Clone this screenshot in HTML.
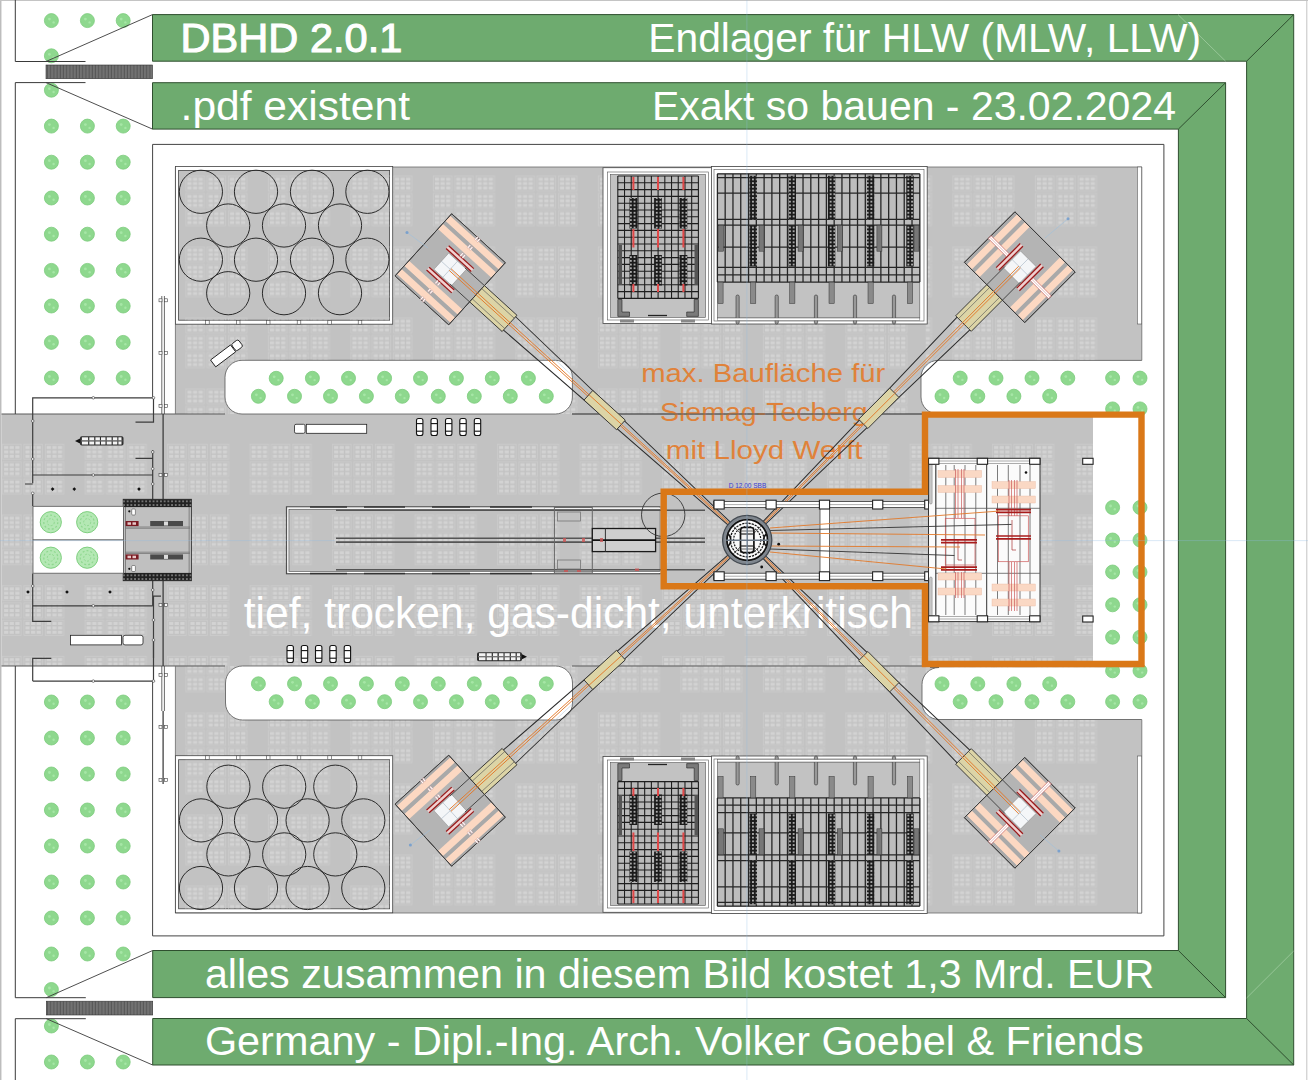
<!DOCTYPE html>
<html><head><meta charset="utf-8">
<style>
html,body{margin:0;padding:0;background:#fff;width:1308px;height:1080px;overflow:hidden}
svg{display:block}
text{font-family:"Liberation Sans",sans-serif}
</style></head><body>
<svg width="1308" height="1080" viewBox="0 0 1308 1080">
<defs>
<pattern id="hatch" width="3.2" height="20" patternUnits="userSpaceOnUse">
<rect width="3.2" height="20" fill="#727272"/><rect x="2.2" width="1" height="20" fill="#555"/>
</pattern>
<pattern id="tilesT" x="20.4" y="175.5" width="82.5" height="71" patternUnits="userSpaceOnUse"><rect x="0.5" y="0.5" width="18.5" height="15" fill="none" stroke="#cdcdcd" stroke-width="0.7"/><rect x="2.0" y="2.2" width="4.2" height="3" fill="#d3d3d3"/><rect x="2.0" y="6.6" width="4.2" height="3" fill="#d3d3d3"/><rect x="2.0" y="11.0" width="4.2" height="3" fill="#d3d3d3"/><rect x="7.6" y="2.2" width="4.2" height="3" fill="#d3d3d3"/><rect x="7.6" y="6.6" width="4.2" height="3" fill="#d3d3d3"/><rect x="7.6" y="11.0" width="4.2" height="3" fill="#d3d3d3"/><rect x="13.2" y="2.2" width="4.2" height="3" fill="#d3d3d3"/><rect x="13.2" y="6.6" width="4.2" height="3" fill="#d3d3d3"/><rect x="13.2" y="11.0" width="4.2" height="3" fill="#d3d3d3"/><rect x="0.5" y="17.8" width="18.5" height="15" fill="none" stroke="#cdcdcd" stroke-width="0.7"/><rect x="2.0" y="19.5" width="4.2" height="3" fill="#d3d3d3"/><rect x="2.0" y="23.9" width="4.2" height="3" fill="#d3d3d3"/><rect x="2.0" y="28.3" width="4.2" height="3" fill="#d3d3d3"/><rect x="7.6" y="19.5" width="4.2" height="3" fill="#d3d3d3"/><rect x="7.6" y="23.9" width="4.2" height="3" fill="#d3d3d3"/><rect x="7.6" y="28.3" width="4.2" height="3" fill="#d3d3d3"/><rect x="13.2" y="19.5" width="4.2" height="3" fill="#d3d3d3"/><rect x="13.2" y="23.9" width="4.2" height="3" fill="#d3d3d3"/><rect x="13.2" y="28.3" width="4.2" height="3" fill="#d3d3d3"/><rect x="0.5" y="35.1" width="18.5" height="15" fill="none" stroke="#cdcdcd" stroke-width="0.7"/><rect x="2.0" y="36.800000000000004" width="4.2" height="3" fill="#d3d3d3"/><rect x="2.0" y="41.2" width="4.2" height="3" fill="#d3d3d3"/><rect x="2.0" y="45.6" width="4.2" height="3" fill="#d3d3d3"/><rect x="7.6" y="36.800000000000004" width="4.2" height="3" fill="#d3d3d3"/><rect x="7.6" y="41.2" width="4.2" height="3" fill="#d3d3d3"/><rect x="7.6" y="45.6" width="4.2" height="3" fill="#d3d3d3"/><rect x="13.2" y="36.800000000000004" width="4.2" height="3" fill="#d3d3d3"/><rect x="13.2" y="41.2" width="4.2" height="3" fill="#d3d3d3"/><rect x="13.2" y="45.6" width="4.2" height="3" fill="#d3d3d3"/><rect x="21.8" y="0.5" width="18.5" height="15" fill="none" stroke="#cdcdcd" stroke-width="0.7"/><rect x="23.3" y="2.2" width="4.2" height="3" fill="#d3d3d3"/><rect x="23.3" y="6.6" width="4.2" height="3" fill="#d3d3d3"/><rect x="23.3" y="11.0" width="4.2" height="3" fill="#d3d3d3"/><rect x="28.9" y="2.2" width="4.2" height="3" fill="#d3d3d3"/><rect x="28.9" y="6.6" width="4.2" height="3" fill="#d3d3d3"/><rect x="28.9" y="11.0" width="4.2" height="3" fill="#d3d3d3"/><rect x="34.5" y="2.2" width="4.2" height="3" fill="#d3d3d3"/><rect x="34.5" y="6.6" width="4.2" height="3" fill="#d3d3d3"/><rect x="34.5" y="11.0" width="4.2" height="3" fill="#d3d3d3"/><rect x="21.8" y="17.8" width="18.5" height="15" fill="none" stroke="#cdcdcd" stroke-width="0.7"/><rect x="23.3" y="19.5" width="4.2" height="3" fill="#d3d3d3"/><rect x="23.3" y="23.9" width="4.2" height="3" fill="#d3d3d3"/><rect x="23.3" y="28.3" width="4.2" height="3" fill="#d3d3d3"/><rect x="28.9" y="19.5" width="4.2" height="3" fill="#d3d3d3"/><rect x="28.9" y="23.9" width="4.2" height="3" fill="#d3d3d3"/><rect x="28.9" y="28.3" width="4.2" height="3" fill="#d3d3d3"/><rect x="34.5" y="19.5" width="4.2" height="3" fill="#d3d3d3"/><rect x="34.5" y="23.9" width="4.2" height="3" fill="#d3d3d3"/><rect x="34.5" y="28.3" width="4.2" height="3" fill="#d3d3d3"/><rect x="21.8" y="35.1" width="18.5" height="15" fill="none" stroke="#cdcdcd" stroke-width="0.7"/><rect x="23.3" y="36.800000000000004" width="4.2" height="3" fill="#d3d3d3"/><rect x="23.3" y="41.2" width="4.2" height="3" fill="#d3d3d3"/><rect x="23.3" y="45.6" width="4.2" height="3" fill="#d3d3d3"/><rect x="28.9" y="36.800000000000004" width="4.2" height="3" fill="#d3d3d3"/><rect x="28.9" y="41.2" width="4.2" height="3" fill="#d3d3d3"/><rect x="28.9" y="45.6" width="4.2" height="3" fill="#d3d3d3"/><rect x="34.5" y="36.800000000000004" width="4.2" height="3" fill="#d3d3d3"/><rect x="34.5" y="41.2" width="4.2" height="3" fill="#d3d3d3"/><rect x="34.5" y="45.6" width="4.2" height="3" fill="#d3d3d3"/><rect x="43.1" y="0.5" width="18.5" height="15" fill="none" stroke="#cdcdcd" stroke-width="0.7"/><rect x="44.6" y="2.2" width="4.2" height="3" fill="#d3d3d3"/><rect x="44.6" y="6.6" width="4.2" height="3" fill="#d3d3d3"/><rect x="44.6" y="11.0" width="4.2" height="3" fill="#d3d3d3"/><rect x="50.2" y="2.2" width="4.2" height="3" fill="#d3d3d3"/><rect x="50.2" y="6.6" width="4.2" height="3" fill="#d3d3d3"/><rect x="50.2" y="11.0" width="4.2" height="3" fill="#d3d3d3"/><rect x="55.8" y="2.2" width="4.2" height="3" fill="#d3d3d3"/><rect x="55.8" y="6.6" width="4.2" height="3" fill="#d3d3d3"/><rect x="55.8" y="11.0" width="4.2" height="3" fill="#d3d3d3"/><rect x="43.1" y="17.8" width="18.5" height="15" fill="none" stroke="#cdcdcd" stroke-width="0.7"/><rect x="44.6" y="19.5" width="4.2" height="3" fill="#d3d3d3"/><rect x="44.6" y="23.9" width="4.2" height="3" fill="#d3d3d3"/><rect x="44.6" y="28.3" width="4.2" height="3" fill="#d3d3d3"/><rect x="50.2" y="19.5" width="4.2" height="3" fill="#d3d3d3"/><rect x="50.2" y="23.9" width="4.2" height="3" fill="#d3d3d3"/><rect x="50.2" y="28.3" width="4.2" height="3" fill="#d3d3d3"/><rect x="55.8" y="19.5" width="4.2" height="3" fill="#d3d3d3"/><rect x="55.8" y="23.9" width="4.2" height="3" fill="#d3d3d3"/><rect x="55.8" y="28.3" width="4.2" height="3" fill="#d3d3d3"/><rect x="43.1" y="35.1" width="18.5" height="15" fill="none" stroke="#cdcdcd" stroke-width="0.7"/><rect x="44.6" y="36.800000000000004" width="4.2" height="3" fill="#d3d3d3"/><rect x="44.6" y="41.2" width="4.2" height="3" fill="#d3d3d3"/><rect x="44.6" y="45.6" width="4.2" height="3" fill="#d3d3d3"/><rect x="50.2" y="36.800000000000004" width="4.2" height="3" fill="#d3d3d3"/><rect x="50.2" y="41.2" width="4.2" height="3" fill="#d3d3d3"/><rect x="50.2" y="45.6" width="4.2" height="3" fill="#d3d3d3"/><rect x="55.8" y="36.800000000000004" width="4.2" height="3" fill="#d3d3d3"/><rect x="55.8" y="41.2" width="4.2" height="3" fill="#d3d3d3"/><rect x="55.8" y="45.6" width="4.2" height="3" fill="#d3d3d3"/></pattern><pattern id="tilesT2" x="44.9" y="175.5" width="82.5" height="71" patternUnits="userSpaceOnUse"><rect x="0.5" y="0.5" width="18.5" height="15" fill="none" stroke="#cdcdcd" stroke-width="0.7"/><rect x="2.0" y="2.2" width="4.2" height="3" fill="#d3d3d3"/><rect x="2.0" y="6.6" width="4.2" height="3" fill="#d3d3d3"/><rect x="2.0" y="11.0" width="4.2" height="3" fill="#d3d3d3"/><rect x="7.6" y="2.2" width="4.2" height="3" fill="#d3d3d3"/><rect x="7.6" y="6.6" width="4.2" height="3" fill="#d3d3d3"/><rect x="7.6" y="11.0" width="4.2" height="3" fill="#d3d3d3"/><rect x="13.2" y="2.2" width="4.2" height="3" fill="#d3d3d3"/><rect x="13.2" y="6.6" width="4.2" height="3" fill="#d3d3d3"/><rect x="13.2" y="11.0" width="4.2" height="3" fill="#d3d3d3"/><rect x="0.5" y="17.8" width="18.5" height="15" fill="none" stroke="#cdcdcd" stroke-width="0.7"/><rect x="2.0" y="19.5" width="4.2" height="3" fill="#d3d3d3"/><rect x="2.0" y="23.9" width="4.2" height="3" fill="#d3d3d3"/><rect x="2.0" y="28.3" width="4.2" height="3" fill="#d3d3d3"/><rect x="7.6" y="19.5" width="4.2" height="3" fill="#d3d3d3"/><rect x="7.6" y="23.9" width="4.2" height="3" fill="#d3d3d3"/><rect x="7.6" y="28.3" width="4.2" height="3" fill="#d3d3d3"/><rect x="13.2" y="19.5" width="4.2" height="3" fill="#d3d3d3"/><rect x="13.2" y="23.9" width="4.2" height="3" fill="#d3d3d3"/><rect x="13.2" y="28.3" width="4.2" height="3" fill="#d3d3d3"/><rect x="0.5" y="35.1" width="18.5" height="15" fill="none" stroke="#cdcdcd" stroke-width="0.7"/><rect x="2.0" y="36.800000000000004" width="4.2" height="3" fill="#d3d3d3"/><rect x="2.0" y="41.2" width="4.2" height="3" fill="#d3d3d3"/><rect x="2.0" y="45.6" width="4.2" height="3" fill="#d3d3d3"/><rect x="7.6" y="36.800000000000004" width="4.2" height="3" fill="#d3d3d3"/><rect x="7.6" y="41.2" width="4.2" height="3" fill="#d3d3d3"/><rect x="7.6" y="45.6" width="4.2" height="3" fill="#d3d3d3"/><rect x="13.2" y="36.800000000000004" width="4.2" height="3" fill="#d3d3d3"/><rect x="13.2" y="41.2" width="4.2" height="3" fill="#d3d3d3"/><rect x="13.2" y="45.6" width="4.2" height="3" fill="#d3d3d3"/><rect x="21.8" y="0.5" width="18.5" height="15" fill="none" stroke="#cdcdcd" stroke-width="0.7"/><rect x="23.3" y="2.2" width="4.2" height="3" fill="#d3d3d3"/><rect x="23.3" y="6.6" width="4.2" height="3" fill="#d3d3d3"/><rect x="23.3" y="11.0" width="4.2" height="3" fill="#d3d3d3"/><rect x="28.9" y="2.2" width="4.2" height="3" fill="#d3d3d3"/><rect x="28.9" y="6.6" width="4.2" height="3" fill="#d3d3d3"/><rect x="28.9" y="11.0" width="4.2" height="3" fill="#d3d3d3"/><rect x="34.5" y="2.2" width="4.2" height="3" fill="#d3d3d3"/><rect x="34.5" y="6.6" width="4.2" height="3" fill="#d3d3d3"/><rect x="34.5" y="11.0" width="4.2" height="3" fill="#d3d3d3"/><rect x="21.8" y="17.8" width="18.5" height="15" fill="none" stroke="#cdcdcd" stroke-width="0.7"/><rect x="23.3" y="19.5" width="4.2" height="3" fill="#d3d3d3"/><rect x="23.3" y="23.9" width="4.2" height="3" fill="#d3d3d3"/><rect x="23.3" y="28.3" width="4.2" height="3" fill="#d3d3d3"/><rect x="28.9" y="19.5" width="4.2" height="3" fill="#d3d3d3"/><rect x="28.9" y="23.9" width="4.2" height="3" fill="#d3d3d3"/><rect x="28.9" y="28.3" width="4.2" height="3" fill="#d3d3d3"/><rect x="34.5" y="19.5" width="4.2" height="3" fill="#d3d3d3"/><rect x="34.5" y="23.9" width="4.2" height="3" fill="#d3d3d3"/><rect x="34.5" y="28.3" width="4.2" height="3" fill="#d3d3d3"/><rect x="21.8" y="35.1" width="18.5" height="15" fill="none" stroke="#cdcdcd" stroke-width="0.7"/><rect x="23.3" y="36.800000000000004" width="4.2" height="3" fill="#d3d3d3"/><rect x="23.3" y="41.2" width="4.2" height="3" fill="#d3d3d3"/><rect x="23.3" y="45.6" width="4.2" height="3" fill="#d3d3d3"/><rect x="28.9" y="36.800000000000004" width="4.2" height="3" fill="#d3d3d3"/><rect x="28.9" y="41.2" width="4.2" height="3" fill="#d3d3d3"/><rect x="28.9" y="45.6" width="4.2" height="3" fill="#d3d3d3"/><rect x="34.5" y="36.800000000000004" width="4.2" height="3" fill="#d3d3d3"/><rect x="34.5" y="41.2" width="4.2" height="3" fill="#d3d3d3"/><rect x="34.5" y="45.6" width="4.2" height="3" fill="#d3d3d3"/><rect x="43.1" y="0.5" width="18.5" height="15" fill="none" stroke="#cdcdcd" stroke-width="0.7"/><rect x="44.6" y="2.2" width="4.2" height="3" fill="#d3d3d3"/><rect x="44.6" y="6.6" width="4.2" height="3" fill="#d3d3d3"/><rect x="44.6" y="11.0" width="4.2" height="3" fill="#d3d3d3"/><rect x="50.2" y="2.2" width="4.2" height="3" fill="#d3d3d3"/><rect x="50.2" y="6.6" width="4.2" height="3" fill="#d3d3d3"/><rect x="50.2" y="11.0" width="4.2" height="3" fill="#d3d3d3"/><rect x="55.8" y="2.2" width="4.2" height="3" fill="#d3d3d3"/><rect x="55.8" y="6.6" width="4.2" height="3" fill="#d3d3d3"/><rect x="55.8" y="11.0" width="4.2" height="3" fill="#d3d3d3"/><rect x="43.1" y="17.8" width="18.5" height="15" fill="none" stroke="#cdcdcd" stroke-width="0.7"/><rect x="44.6" y="19.5" width="4.2" height="3" fill="#d3d3d3"/><rect x="44.6" y="23.9" width="4.2" height="3" fill="#d3d3d3"/><rect x="44.6" y="28.3" width="4.2" height="3" fill="#d3d3d3"/><rect x="50.2" y="19.5" width="4.2" height="3" fill="#d3d3d3"/><rect x="50.2" y="23.9" width="4.2" height="3" fill="#d3d3d3"/><rect x="50.2" y="28.3" width="4.2" height="3" fill="#d3d3d3"/><rect x="55.8" y="19.5" width="4.2" height="3" fill="#d3d3d3"/><rect x="55.8" y="23.9" width="4.2" height="3" fill="#d3d3d3"/><rect x="55.8" y="28.3" width="4.2" height="3" fill="#d3d3d3"/><rect x="43.1" y="35.1" width="18.5" height="15" fill="none" stroke="#cdcdcd" stroke-width="0.7"/><rect x="44.6" y="36.800000000000004" width="4.2" height="3" fill="#d3d3d3"/><rect x="44.6" y="41.2" width="4.2" height="3" fill="#d3d3d3"/><rect x="44.6" y="45.6" width="4.2" height="3" fill="#d3d3d3"/><rect x="50.2" y="36.800000000000004" width="4.2" height="3" fill="#d3d3d3"/><rect x="50.2" y="41.2" width="4.2" height="3" fill="#d3d3d3"/><rect x="50.2" y="45.6" width="4.2" height="3" fill="#d3d3d3"/><rect x="55.8" y="36.800000000000004" width="4.2" height="3" fill="#d3d3d3"/><rect x="55.8" y="41.2" width="4.2" height="3" fill="#d3d3d3"/><rect x="55.8" y="45.6" width="4.2" height="3" fill="#d3d3d3"/></pattern><pattern id="tilesR" x="2.1" y="443.8" width="82.5" height="70.7" patternUnits="userSpaceOnUse"><rect x="0.5" y="0.5" width="18.5" height="15" fill="none" stroke="#cdcdcd" stroke-width="0.7"/><rect x="2.0" y="2.2" width="4.2" height="3" fill="#d3d3d3"/><rect x="2.0" y="6.6" width="4.2" height="3" fill="#d3d3d3"/><rect x="2.0" y="11.0" width="4.2" height="3" fill="#d3d3d3"/><rect x="7.6" y="2.2" width="4.2" height="3" fill="#d3d3d3"/><rect x="7.6" y="6.6" width="4.2" height="3" fill="#d3d3d3"/><rect x="7.6" y="11.0" width="4.2" height="3" fill="#d3d3d3"/><rect x="13.2" y="2.2" width="4.2" height="3" fill="#d3d3d3"/><rect x="13.2" y="6.6" width="4.2" height="3" fill="#d3d3d3"/><rect x="13.2" y="11.0" width="4.2" height="3" fill="#d3d3d3"/><rect x="0.5" y="17.8" width="18.5" height="15" fill="none" stroke="#cdcdcd" stroke-width="0.7"/><rect x="2.0" y="19.5" width="4.2" height="3" fill="#d3d3d3"/><rect x="2.0" y="23.9" width="4.2" height="3" fill="#d3d3d3"/><rect x="2.0" y="28.3" width="4.2" height="3" fill="#d3d3d3"/><rect x="7.6" y="19.5" width="4.2" height="3" fill="#d3d3d3"/><rect x="7.6" y="23.9" width="4.2" height="3" fill="#d3d3d3"/><rect x="7.6" y="28.3" width="4.2" height="3" fill="#d3d3d3"/><rect x="13.2" y="19.5" width="4.2" height="3" fill="#d3d3d3"/><rect x="13.2" y="23.9" width="4.2" height="3" fill="#d3d3d3"/><rect x="13.2" y="28.3" width="4.2" height="3" fill="#d3d3d3"/><rect x="0.5" y="35.1" width="18.5" height="15" fill="none" stroke="#cdcdcd" stroke-width="0.7"/><rect x="2.0" y="36.800000000000004" width="4.2" height="3" fill="#d3d3d3"/><rect x="2.0" y="41.2" width="4.2" height="3" fill="#d3d3d3"/><rect x="2.0" y="45.6" width="4.2" height="3" fill="#d3d3d3"/><rect x="7.6" y="36.800000000000004" width="4.2" height="3" fill="#d3d3d3"/><rect x="7.6" y="41.2" width="4.2" height="3" fill="#d3d3d3"/><rect x="7.6" y="45.6" width="4.2" height="3" fill="#d3d3d3"/><rect x="13.2" y="36.800000000000004" width="4.2" height="3" fill="#d3d3d3"/><rect x="13.2" y="41.2" width="4.2" height="3" fill="#d3d3d3"/><rect x="13.2" y="45.6" width="4.2" height="3" fill="#d3d3d3"/><rect x="21.8" y="0.5" width="18.5" height="15" fill="none" stroke="#cdcdcd" stroke-width="0.7"/><rect x="23.3" y="2.2" width="4.2" height="3" fill="#d3d3d3"/><rect x="23.3" y="6.6" width="4.2" height="3" fill="#d3d3d3"/><rect x="23.3" y="11.0" width="4.2" height="3" fill="#d3d3d3"/><rect x="28.9" y="2.2" width="4.2" height="3" fill="#d3d3d3"/><rect x="28.9" y="6.6" width="4.2" height="3" fill="#d3d3d3"/><rect x="28.9" y="11.0" width="4.2" height="3" fill="#d3d3d3"/><rect x="34.5" y="2.2" width="4.2" height="3" fill="#d3d3d3"/><rect x="34.5" y="6.6" width="4.2" height="3" fill="#d3d3d3"/><rect x="34.5" y="11.0" width="4.2" height="3" fill="#d3d3d3"/><rect x="21.8" y="17.8" width="18.5" height="15" fill="none" stroke="#cdcdcd" stroke-width="0.7"/><rect x="23.3" y="19.5" width="4.2" height="3" fill="#d3d3d3"/><rect x="23.3" y="23.9" width="4.2" height="3" fill="#d3d3d3"/><rect x="23.3" y="28.3" width="4.2" height="3" fill="#d3d3d3"/><rect x="28.9" y="19.5" width="4.2" height="3" fill="#d3d3d3"/><rect x="28.9" y="23.9" width="4.2" height="3" fill="#d3d3d3"/><rect x="28.9" y="28.3" width="4.2" height="3" fill="#d3d3d3"/><rect x="34.5" y="19.5" width="4.2" height="3" fill="#d3d3d3"/><rect x="34.5" y="23.9" width="4.2" height="3" fill="#d3d3d3"/><rect x="34.5" y="28.3" width="4.2" height="3" fill="#d3d3d3"/><rect x="21.8" y="35.1" width="18.5" height="15" fill="none" stroke="#cdcdcd" stroke-width="0.7"/><rect x="23.3" y="36.800000000000004" width="4.2" height="3" fill="#d3d3d3"/><rect x="23.3" y="41.2" width="4.2" height="3" fill="#d3d3d3"/><rect x="23.3" y="45.6" width="4.2" height="3" fill="#d3d3d3"/><rect x="28.9" y="36.800000000000004" width="4.2" height="3" fill="#d3d3d3"/><rect x="28.9" y="41.2" width="4.2" height="3" fill="#d3d3d3"/><rect x="28.9" y="45.6" width="4.2" height="3" fill="#d3d3d3"/><rect x="34.5" y="36.800000000000004" width="4.2" height="3" fill="#d3d3d3"/><rect x="34.5" y="41.2" width="4.2" height="3" fill="#d3d3d3"/><rect x="34.5" y="45.6" width="4.2" height="3" fill="#d3d3d3"/><rect x="43.1" y="0.5" width="18.5" height="15" fill="none" stroke="#cdcdcd" stroke-width="0.7"/><rect x="44.6" y="2.2" width="4.2" height="3" fill="#d3d3d3"/><rect x="44.6" y="6.6" width="4.2" height="3" fill="#d3d3d3"/><rect x="44.6" y="11.0" width="4.2" height="3" fill="#d3d3d3"/><rect x="50.2" y="2.2" width="4.2" height="3" fill="#d3d3d3"/><rect x="50.2" y="6.6" width="4.2" height="3" fill="#d3d3d3"/><rect x="50.2" y="11.0" width="4.2" height="3" fill="#d3d3d3"/><rect x="55.8" y="2.2" width="4.2" height="3" fill="#d3d3d3"/><rect x="55.8" y="6.6" width="4.2" height="3" fill="#d3d3d3"/><rect x="55.8" y="11.0" width="4.2" height="3" fill="#d3d3d3"/><rect x="43.1" y="17.8" width="18.5" height="15" fill="none" stroke="#cdcdcd" stroke-width="0.7"/><rect x="44.6" y="19.5" width="4.2" height="3" fill="#d3d3d3"/><rect x="44.6" y="23.9" width="4.2" height="3" fill="#d3d3d3"/><rect x="44.6" y="28.3" width="4.2" height="3" fill="#d3d3d3"/><rect x="50.2" y="19.5" width="4.2" height="3" fill="#d3d3d3"/><rect x="50.2" y="23.9" width="4.2" height="3" fill="#d3d3d3"/><rect x="50.2" y="28.3" width="4.2" height="3" fill="#d3d3d3"/><rect x="55.8" y="19.5" width="4.2" height="3" fill="#d3d3d3"/><rect x="55.8" y="23.9" width="4.2" height="3" fill="#d3d3d3"/><rect x="55.8" y="28.3" width="4.2" height="3" fill="#d3d3d3"/><rect x="43.1" y="35.1" width="18.5" height="15" fill="none" stroke="#cdcdcd" stroke-width="0.7"/><rect x="44.6" y="36.800000000000004" width="4.2" height="3" fill="#d3d3d3"/><rect x="44.6" y="41.2" width="4.2" height="3" fill="#d3d3d3"/><rect x="44.6" y="45.6" width="4.2" height="3" fill="#d3d3d3"/><rect x="50.2" y="36.800000000000004" width="4.2" height="3" fill="#d3d3d3"/><rect x="50.2" y="41.2" width="4.2" height="3" fill="#d3d3d3"/><rect x="50.2" y="45.6" width="4.2" height="3" fill="#d3d3d3"/><rect x="55.8" y="36.800000000000004" width="4.2" height="3" fill="#d3d3d3"/><rect x="55.8" y="41.2" width="4.2" height="3" fill="#d3d3d3"/><rect x="55.8" y="45.6" width="4.2" height="3" fill="#d3d3d3"/></pattern><pattern id="tilesB" x="20.4" y="712.5" width="82.5" height="71" patternUnits="userSpaceOnUse"><rect x="0.5" y="0.5" width="18.5" height="15" fill="none" stroke="#cdcdcd" stroke-width="0.7"/><rect x="2.0" y="2.2" width="4.2" height="3" fill="#d3d3d3"/><rect x="2.0" y="6.6" width="4.2" height="3" fill="#d3d3d3"/><rect x="2.0" y="11.0" width="4.2" height="3" fill="#d3d3d3"/><rect x="7.6" y="2.2" width="4.2" height="3" fill="#d3d3d3"/><rect x="7.6" y="6.6" width="4.2" height="3" fill="#d3d3d3"/><rect x="7.6" y="11.0" width="4.2" height="3" fill="#d3d3d3"/><rect x="13.2" y="2.2" width="4.2" height="3" fill="#d3d3d3"/><rect x="13.2" y="6.6" width="4.2" height="3" fill="#d3d3d3"/><rect x="13.2" y="11.0" width="4.2" height="3" fill="#d3d3d3"/><rect x="0.5" y="17.8" width="18.5" height="15" fill="none" stroke="#cdcdcd" stroke-width="0.7"/><rect x="2.0" y="19.5" width="4.2" height="3" fill="#d3d3d3"/><rect x="2.0" y="23.9" width="4.2" height="3" fill="#d3d3d3"/><rect x="2.0" y="28.3" width="4.2" height="3" fill="#d3d3d3"/><rect x="7.6" y="19.5" width="4.2" height="3" fill="#d3d3d3"/><rect x="7.6" y="23.9" width="4.2" height="3" fill="#d3d3d3"/><rect x="7.6" y="28.3" width="4.2" height="3" fill="#d3d3d3"/><rect x="13.2" y="19.5" width="4.2" height="3" fill="#d3d3d3"/><rect x="13.2" y="23.9" width="4.2" height="3" fill="#d3d3d3"/><rect x="13.2" y="28.3" width="4.2" height="3" fill="#d3d3d3"/><rect x="0.5" y="35.1" width="18.5" height="15" fill="none" stroke="#cdcdcd" stroke-width="0.7"/><rect x="2.0" y="36.800000000000004" width="4.2" height="3" fill="#d3d3d3"/><rect x="2.0" y="41.2" width="4.2" height="3" fill="#d3d3d3"/><rect x="2.0" y="45.6" width="4.2" height="3" fill="#d3d3d3"/><rect x="7.6" y="36.800000000000004" width="4.2" height="3" fill="#d3d3d3"/><rect x="7.6" y="41.2" width="4.2" height="3" fill="#d3d3d3"/><rect x="7.6" y="45.6" width="4.2" height="3" fill="#d3d3d3"/><rect x="13.2" y="36.800000000000004" width="4.2" height="3" fill="#d3d3d3"/><rect x="13.2" y="41.2" width="4.2" height="3" fill="#d3d3d3"/><rect x="13.2" y="45.6" width="4.2" height="3" fill="#d3d3d3"/><rect x="21.8" y="0.5" width="18.5" height="15" fill="none" stroke="#cdcdcd" stroke-width="0.7"/><rect x="23.3" y="2.2" width="4.2" height="3" fill="#d3d3d3"/><rect x="23.3" y="6.6" width="4.2" height="3" fill="#d3d3d3"/><rect x="23.3" y="11.0" width="4.2" height="3" fill="#d3d3d3"/><rect x="28.9" y="2.2" width="4.2" height="3" fill="#d3d3d3"/><rect x="28.9" y="6.6" width="4.2" height="3" fill="#d3d3d3"/><rect x="28.9" y="11.0" width="4.2" height="3" fill="#d3d3d3"/><rect x="34.5" y="2.2" width="4.2" height="3" fill="#d3d3d3"/><rect x="34.5" y="6.6" width="4.2" height="3" fill="#d3d3d3"/><rect x="34.5" y="11.0" width="4.2" height="3" fill="#d3d3d3"/><rect x="21.8" y="17.8" width="18.5" height="15" fill="none" stroke="#cdcdcd" stroke-width="0.7"/><rect x="23.3" y="19.5" width="4.2" height="3" fill="#d3d3d3"/><rect x="23.3" y="23.9" width="4.2" height="3" fill="#d3d3d3"/><rect x="23.3" y="28.3" width="4.2" height="3" fill="#d3d3d3"/><rect x="28.9" y="19.5" width="4.2" height="3" fill="#d3d3d3"/><rect x="28.9" y="23.9" width="4.2" height="3" fill="#d3d3d3"/><rect x="28.9" y="28.3" width="4.2" height="3" fill="#d3d3d3"/><rect x="34.5" y="19.5" width="4.2" height="3" fill="#d3d3d3"/><rect x="34.5" y="23.9" width="4.2" height="3" fill="#d3d3d3"/><rect x="34.5" y="28.3" width="4.2" height="3" fill="#d3d3d3"/><rect x="21.8" y="35.1" width="18.5" height="15" fill="none" stroke="#cdcdcd" stroke-width="0.7"/><rect x="23.3" y="36.800000000000004" width="4.2" height="3" fill="#d3d3d3"/><rect x="23.3" y="41.2" width="4.2" height="3" fill="#d3d3d3"/><rect x="23.3" y="45.6" width="4.2" height="3" fill="#d3d3d3"/><rect x="28.9" y="36.800000000000004" width="4.2" height="3" fill="#d3d3d3"/><rect x="28.9" y="41.2" width="4.2" height="3" fill="#d3d3d3"/><rect x="28.9" y="45.6" width="4.2" height="3" fill="#d3d3d3"/><rect x="34.5" y="36.800000000000004" width="4.2" height="3" fill="#d3d3d3"/><rect x="34.5" y="41.2" width="4.2" height="3" fill="#d3d3d3"/><rect x="34.5" y="45.6" width="4.2" height="3" fill="#d3d3d3"/><rect x="43.1" y="0.5" width="18.5" height="15" fill="none" stroke="#cdcdcd" stroke-width="0.7"/><rect x="44.6" y="2.2" width="4.2" height="3" fill="#d3d3d3"/><rect x="44.6" y="6.6" width="4.2" height="3" fill="#d3d3d3"/><rect x="44.6" y="11.0" width="4.2" height="3" fill="#d3d3d3"/><rect x="50.2" y="2.2" width="4.2" height="3" fill="#d3d3d3"/><rect x="50.2" y="6.6" width="4.2" height="3" fill="#d3d3d3"/><rect x="50.2" y="11.0" width="4.2" height="3" fill="#d3d3d3"/><rect x="55.8" y="2.2" width="4.2" height="3" fill="#d3d3d3"/><rect x="55.8" y="6.6" width="4.2" height="3" fill="#d3d3d3"/><rect x="55.8" y="11.0" width="4.2" height="3" fill="#d3d3d3"/><rect x="43.1" y="17.8" width="18.5" height="15" fill="none" stroke="#cdcdcd" stroke-width="0.7"/><rect x="44.6" y="19.5" width="4.2" height="3" fill="#d3d3d3"/><rect x="44.6" y="23.9" width="4.2" height="3" fill="#d3d3d3"/><rect x="44.6" y="28.3" width="4.2" height="3" fill="#d3d3d3"/><rect x="50.2" y="19.5" width="4.2" height="3" fill="#d3d3d3"/><rect x="50.2" y="23.9" width="4.2" height="3" fill="#d3d3d3"/><rect x="50.2" y="28.3" width="4.2" height="3" fill="#d3d3d3"/><rect x="55.8" y="19.5" width="4.2" height="3" fill="#d3d3d3"/><rect x="55.8" y="23.9" width="4.2" height="3" fill="#d3d3d3"/><rect x="55.8" y="28.3" width="4.2" height="3" fill="#d3d3d3"/><rect x="43.1" y="35.1" width="18.5" height="15" fill="none" stroke="#cdcdcd" stroke-width="0.7"/><rect x="44.6" y="36.800000000000004" width="4.2" height="3" fill="#d3d3d3"/><rect x="44.6" y="41.2" width="4.2" height="3" fill="#d3d3d3"/><rect x="44.6" y="45.6" width="4.2" height="3" fill="#d3d3d3"/><rect x="50.2" y="36.800000000000004" width="4.2" height="3" fill="#d3d3d3"/><rect x="50.2" y="41.2" width="4.2" height="3" fill="#d3d3d3"/><rect x="50.2" y="45.6" width="4.2" height="3" fill="#d3d3d3"/><rect x="55.8" y="36.800000000000004" width="4.2" height="3" fill="#d3d3d3"/><rect x="55.8" y="41.2" width="4.2" height="3" fill="#d3d3d3"/><rect x="55.8" y="45.6" width="4.2" height="3" fill="#d3d3d3"/></pattern><pattern id="tilesB2" x="44.9" y="712.5" width="82.5" height="71" patternUnits="userSpaceOnUse"><rect x="0.5" y="0.5" width="18.5" height="15" fill="none" stroke="#cdcdcd" stroke-width="0.7"/><rect x="2.0" y="2.2" width="4.2" height="3" fill="#d3d3d3"/><rect x="2.0" y="6.6" width="4.2" height="3" fill="#d3d3d3"/><rect x="2.0" y="11.0" width="4.2" height="3" fill="#d3d3d3"/><rect x="7.6" y="2.2" width="4.2" height="3" fill="#d3d3d3"/><rect x="7.6" y="6.6" width="4.2" height="3" fill="#d3d3d3"/><rect x="7.6" y="11.0" width="4.2" height="3" fill="#d3d3d3"/><rect x="13.2" y="2.2" width="4.2" height="3" fill="#d3d3d3"/><rect x="13.2" y="6.6" width="4.2" height="3" fill="#d3d3d3"/><rect x="13.2" y="11.0" width="4.2" height="3" fill="#d3d3d3"/><rect x="0.5" y="17.8" width="18.5" height="15" fill="none" stroke="#cdcdcd" stroke-width="0.7"/><rect x="2.0" y="19.5" width="4.2" height="3" fill="#d3d3d3"/><rect x="2.0" y="23.9" width="4.2" height="3" fill="#d3d3d3"/><rect x="2.0" y="28.3" width="4.2" height="3" fill="#d3d3d3"/><rect x="7.6" y="19.5" width="4.2" height="3" fill="#d3d3d3"/><rect x="7.6" y="23.9" width="4.2" height="3" fill="#d3d3d3"/><rect x="7.6" y="28.3" width="4.2" height="3" fill="#d3d3d3"/><rect x="13.2" y="19.5" width="4.2" height="3" fill="#d3d3d3"/><rect x="13.2" y="23.9" width="4.2" height="3" fill="#d3d3d3"/><rect x="13.2" y="28.3" width="4.2" height="3" fill="#d3d3d3"/><rect x="0.5" y="35.1" width="18.5" height="15" fill="none" stroke="#cdcdcd" stroke-width="0.7"/><rect x="2.0" y="36.800000000000004" width="4.2" height="3" fill="#d3d3d3"/><rect x="2.0" y="41.2" width="4.2" height="3" fill="#d3d3d3"/><rect x="2.0" y="45.6" width="4.2" height="3" fill="#d3d3d3"/><rect x="7.6" y="36.800000000000004" width="4.2" height="3" fill="#d3d3d3"/><rect x="7.6" y="41.2" width="4.2" height="3" fill="#d3d3d3"/><rect x="7.6" y="45.6" width="4.2" height="3" fill="#d3d3d3"/><rect x="13.2" y="36.800000000000004" width="4.2" height="3" fill="#d3d3d3"/><rect x="13.2" y="41.2" width="4.2" height="3" fill="#d3d3d3"/><rect x="13.2" y="45.6" width="4.2" height="3" fill="#d3d3d3"/><rect x="21.8" y="0.5" width="18.5" height="15" fill="none" stroke="#cdcdcd" stroke-width="0.7"/><rect x="23.3" y="2.2" width="4.2" height="3" fill="#d3d3d3"/><rect x="23.3" y="6.6" width="4.2" height="3" fill="#d3d3d3"/><rect x="23.3" y="11.0" width="4.2" height="3" fill="#d3d3d3"/><rect x="28.9" y="2.2" width="4.2" height="3" fill="#d3d3d3"/><rect x="28.9" y="6.6" width="4.2" height="3" fill="#d3d3d3"/><rect x="28.9" y="11.0" width="4.2" height="3" fill="#d3d3d3"/><rect x="34.5" y="2.2" width="4.2" height="3" fill="#d3d3d3"/><rect x="34.5" y="6.6" width="4.2" height="3" fill="#d3d3d3"/><rect x="34.5" y="11.0" width="4.2" height="3" fill="#d3d3d3"/><rect x="21.8" y="17.8" width="18.5" height="15" fill="none" stroke="#cdcdcd" stroke-width="0.7"/><rect x="23.3" y="19.5" width="4.2" height="3" fill="#d3d3d3"/><rect x="23.3" y="23.9" width="4.2" height="3" fill="#d3d3d3"/><rect x="23.3" y="28.3" width="4.2" height="3" fill="#d3d3d3"/><rect x="28.9" y="19.5" width="4.2" height="3" fill="#d3d3d3"/><rect x="28.9" y="23.9" width="4.2" height="3" fill="#d3d3d3"/><rect x="28.9" y="28.3" width="4.2" height="3" fill="#d3d3d3"/><rect x="34.5" y="19.5" width="4.2" height="3" fill="#d3d3d3"/><rect x="34.5" y="23.9" width="4.2" height="3" fill="#d3d3d3"/><rect x="34.5" y="28.3" width="4.2" height="3" fill="#d3d3d3"/><rect x="21.8" y="35.1" width="18.5" height="15" fill="none" stroke="#cdcdcd" stroke-width="0.7"/><rect x="23.3" y="36.800000000000004" width="4.2" height="3" fill="#d3d3d3"/><rect x="23.3" y="41.2" width="4.2" height="3" fill="#d3d3d3"/><rect x="23.3" y="45.6" width="4.2" height="3" fill="#d3d3d3"/><rect x="28.9" y="36.800000000000004" width="4.2" height="3" fill="#d3d3d3"/><rect x="28.9" y="41.2" width="4.2" height="3" fill="#d3d3d3"/><rect x="28.9" y="45.6" width="4.2" height="3" fill="#d3d3d3"/><rect x="34.5" y="36.800000000000004" width="4.2" height="3" fill="#d3d3d3"/><rect x="34.5" y="41.2" width="4.2" height="3" fill="#d3d3d3"/><rect x="34.5" y="45.6" width="4.2" height="3" fill="#d3d3d3"/><rect x="43.1" y="0.5" width="18.5" height="15" fill="none" stroke="#cdcdcd" stroke-width="0.7"/><rect x="44.6" y="2.2" width="4.2" height="3" fill="#d3d3d3"/><rect x="44.6" y="6.6" width="4.2" height="3" fill="#d3d3d3"/><rect x="44.6" y="11.0" width="4.2" height="3" fill="#d3d3d3"/><rect x="50.2" y="2.2" width="4.2" height="3" fill="#d3d3d3"/><rect x="50.2" y="6.6" width="4.2" height="3" fill="#d3d3d3"/><rect x="50.2" y="11.0" width="4.2" height="3" fill="#d3d3d3"/><rect x="55.8" y="2.2" width="4.2" height="3" fill="#d3d3d3"/><rect x="55.8" y="6.6" width="4.2" height="3" fill="#d3d3d3"/><rect x="55.8" y="11.0" width="4.2" height="3" fill="#d3d3d3"/><rect x="43.1" y="17.8" width="18.5" height="15" fill="none" stroke="#cdcdcd" stroke-width="0.7"/><rect x="44.6" y="19.5" width="4.2" height="3" fill="#d3d3d3"/><rect x="44.6" y="23.9" width="4.2" height="3" fill="#d3d3d3"/><rect x="44.6" y="28.3" width="4.2" height="3" fill="#d3d3d3"/><rect x="50.2" y="19.5" width="4.2" height="3" fill="#d3d3d3"/><rect x="50.2" y="23.9" width="4.2" height="3" fill="#d3d3d3"/><rect x="50.2" y="28.3" width="4.2" height="3" fill="#d3d3d3"/><rect x="55.8" y="19.5" width="4.2" height="3" fill="#d3d3d3"/><rect x="55.8" y="23.9" width="4.2" height="3" fill="#d3d3d3"/><rect x="55.8" y="28.3" width="4.2" height="3" fill="#d3d3d3"/><rect x="43.1" y="35.1" width="18.5" height="15" fill="none" stroke="#cdcdcd" stroke-width="0.7"/><rect x="44.6" y="36.800000000000004" width="4.2" height="3" fill="#d3d3d3"/><rect x="44.6" y="41.2" width="4.2" height="3" fill="#d3d3d3"/><rect x="44.6" y="45.6" width="4.2" height="3" fill="#d3d3d3"/><rect x="50.2" y="36.800000000000004" width="4.2" height="3" fill="#d3d3d3"/><rect x="50.2" y="41.2" width="4.2" height="3" fill="#d3d3d3"/><rect x="50.2" y="45.6" width="4.2" height="3" fill="#d3d3d3"/><rect x="55.8" y="36.800000000000004" width="4.2" height="3" fill="#d3d3d3"/><rect x="55.8" y="41.2" width="4.2" height="3" fill="#d3d3d3"/><rect x="55.8" y="45.6" width="4.2" height="3" fill="#d3d3d3"/></pattern><pattern id="tiles" x="20.4" y="175.5" width="82.5" height="71" patternUnits="userSpaceOnUse"><rect x="0.5" y="0.5" width="18.5" height="15" fill="none" stroke="#cdcdcd" stroke-width="0.7"/><rect x="2.0" y="2.2" width="4.2" height="3" fill="#d3d3d3"/><rect x="2.0" y="6.6" width="4.2" height="3" fill="#d3d3d3"/><rect x="2.0" y="11.0" width="4.2" height="3" fill="#d3d3d3"/><rect x="7.6" y="2.2" width="4.2" height="3" fill="#d3d3d3"/><rect x="7.6" y="6.6" width="4.2" height="3" fill="#d3d3d3"/><rect x="7.6" y="11.0" width="4.2" height="3" fill="#d3d3d3"/><rect x="13.2" y="2.2" width="4.2" height="3" fill="#d3d3d3"/><rect x="13.2" y="6.6" width="4.2" height="3" fill="#d3d3d3"/><rect x="13.2" y="11.0" width="4.2" height="3" fill="#d3d3d3"/><rect x="0.5" y="17.8" width="18.5" height="15" fill="none" stroke="#cdcdcd" stroke-width="0.7"/><rect x="2.0" y="19.5" width="4.2" height="3" fill="#d3d3d3"/><rect x="2.0" y="23.9" width="4.2" height="3" fill="#d3d3d3"/><rect x="2.0" y="28.3" width="4.2" height="3" fill="#d3d3d3"/><rect x="7.6" y="19.5" width="4.2" height="3" fill="#d3d3d3"/><rect x="7.6" y="23.9" width="4.2" height="3" fill="#d3d3d3"/><rect x="7.6" y="28.3" width="4.2" height="3" fill="#d3d3d3"/><rect x="13.2" y="19.5" width="4.2" height="3" fill="#d3d3d3"/><rect x="13.2" y="23.9" width="4.2" height="3" fill="#d3d3d3"/><rect x="13.2" y="28.3" width="4.2" height="3" fill="#d3d3d3"/><rect x="0.5" y="35.1" width="18.5" height="15" fill="none" stroke="#cdcdcd" stroke-width="0.7"/><rect x="2.0" y="36.800000000000004" width="4.2" height="3" fill="#d3d3d3"/><rect x="2.0" y="41.2" width="4.2" height="3" fill="#d3d3d3"/><rect x="2.0" y="45.6" width="4.2" height="3" fill="#d3d3d3"/><rect x="7.6" y="36.800000000000004" width="4.2" height="3" fill="#d3d3d3"/><rect x="7.6" y="41.2" width="4.2" height="3" fill="#d3d3d3"/><rect x="7.6" y="45.6" width="4.2" height="3" fill="#d3d3d3"/><rect x="13.2" y="36.800000000000004" width="4.2" height="3" fill="#d3d3d3"/><rect x="13.2" y="41.2" width="4.2" height="3" fill="#d3d3d3"/><rect x="13.2" y="45.6" width="4.2" height="3" fill="#d3d3d3"/><rect x="21.8" y="0.5" width="18.5" height="15" fill="none" stroke="#cdcdcd" stroke-width="0.7"/><rect x="23.3" y="2.2" width="4.2" height="3" fill="#d3d3d3"/><rect x="23.3" y="6.6" width="4.2" height="3" fill="#d3d3d3"/><rect x="23.3" y="11.0" width="4.2" height="3" fill="#d3d3d3"/><rect x="28.9" y="2.2" width="4.2" height="3" fill="#d3d3d3"/><rect x="28.9" y="6.6" width="4.2" height="3" fill="#d3d3d3"/><rect x="28.9" y="11.0" width="4.2" height="3" fill="#d3d3d3"/><rect x="34.5" y="2.2" width="4.2" height="3" fill="#d3d3d3"/><rect x="34.5" y="6.6" width="4.2" height="3" fill="#d3d3d3"/><rect x="34.5" y="11.0" width="4.2" height="3" fill="#d3d3d3"/><rect x="21.8" y="17.8" width="18.5" height="15" fill="none" stroke="#cdcdcd" stroke-width="0.7"/><rect x="23.3" y="19.5" width="4.2" height="3" fill="#d3d3d3"/><rect x="23.3" y="23.9" width="4.2" height="3" fill="#d3d3d3"/><rect x="23.3" y="28.3" width="4.2" height="3" fill="#d3d3d3"/><rect x="28.9" y="19.5" width="4.2" height="3" fill="#d3d3d3"/><rect x="28.9" y="23.9" width="4.2" height="3" fill="#d3d3d3"/><rect x="28.9" y="28.3" width="4.2" height="3" fill="#d3d3d3"/><rect x="34.5" y="19.5" width="4.2" height="3" fill="#d3d3d3"/><rect x="34.5" y="23.9" width="4.2" height="3" fill="#d3d3d3"/><rect x="34.5" y="28.3" width="4.2" height="3" fill="#d3d3d3"/><rect x="21.8" y="35.1" width="18.5" height="15" fill="none" stroke="#cdcdcd" stroke-width="0.7"/><rect x="23.3" y="36.800000000000004" width="4.2" height="3" fill="#d3d3d3"/><rect x="23.3" y="41.2" width="4.2" height="3" fill="#d3d3d3"/><rect x="23.3" y="45.6" width="4.2" height="3" fill="#d3d3d3"/><rect x="28.9" y="36.800000000000004" width="4.2" height="3" fill="#d3d3d3"/><rect x="28.9" y="41.2" width="4.2" height="3" fill="#d3d3d3"/><rect x="28.9" y="45.6" width="4.2" height="3" fill="#d3d3d3"/><rect x="34.5" y="36.800000000000004" width="4.2" height="3" fill="#d3d3d3"/><rect x="34.5" y="41.2" width="4.2" height="3" fill="#d3d3d3"/><rect x="34.5" y="45.6" width="4.2" height="3" fill="#d3d3d3"/><rect x="43.1" y="0.5" width="18.5" height="15" fill="none" stroke="#cdcdcd" stroke-width="0.7"/><rect x="44.6" y="2.2" width="4.2" height="3" fill="#d3d3d3"/><rect x="44.6" y="6.6" width="4.2" height="3" fill="#d3d3d3"/><rect x="44.6" y="11.0" width="4.2" height="3" fill="#d3d3d3"/><rect x="50.2" y="2.2" width="4.2" height="3" fill="#d3d3d3"/><rect x="50.2" y="6.6" width="4.2" height="3" fill="#d3d3d3"/><rect x="50.2" y="11.0" width="4.2" height="3" fill="#d3d3d3"/><rect x="55.8" y="2.2" width="4.2" height="3" fill="#d3d3d3"/><rect x="55.8" y="6.6" width="4.2" height="3" fill="#d3d3d3"/><rect x="55.8" y="11.0" width="4.2" height="3" fill="#d3d3d3"/><rect x="43.1" y="17.8" width="18.5" height="15" fill="none" stroke="#cdcdcd" stroke-width="0.7"/><rect x="44.6" y="19.5" width="4.2" height="3" fill="#d3d3d3"/><rect x="44.6" y="23.9" width="4.2" height="3" fill="#d3d3d3"/><rect x="44.6" y="28.3" width="4.2" height="3" fill="#d3d3d3"/><rect x="50.2" y="19.5" width="4.2" height="3" fill="#d3d3d3"/><rect x="50.2" y="23.9" width="4.2" height="3" fill="#d3d3d3"/><rect x="50.2" y="28.3" width="4.2" height="3" fill="#d3d3d3"/><rect x="55.8" y="19.5" width="4.2" height="3" fill="#d3d3d3"/><rect x="55.8" y="23.9" width="4.2" height="3" fill="#d3d3d3"/><rect x="55.8" y="28.3" width="4.2" height="3" fill="#d3d3d3"/><rect x="43.1" y="35.1" width="18.5" height="15" fill="none" stroke="#cdcdcd" stroke-width="0.7"/><rect x="44.6" y="36.800000000000004" width="4.2" height="3" fill="#d3d3d3"/><rect x="44.6" y="41.2" width="4.2" height="3" fill="#d3d3d3"/><rect x="44.6" y="45.6" width="4.2" height="3" fill="#d3d3d3"/><rect x="50.2" y="36.800000000000004" width="4.2" height="3" fill="#d3d3d3"/><rect x="50.2" y="41.2" width="4.2" height="3" fill="#d3d3d3"/><rect x="50.2" y="45.6" width="4.2" height="3" fill="#d3d3d3"/><rect x="55.8" y="36.800000000000004" width="4.2" height="3" fill="#d3d3d3"/><rect x="55.8" y="41.2" width="4.2" height="3" fill="#d3d3d3"/><rect x="55.8" y="45.6" width="4.2" height="3" fill="#d3d3d3"/></pattern>
<g id="bigtree"><circle r="10.6" fill="#b4e8b4" stroke="#7fcf7f" stroke-width="1"/><circle r="7" fill="none" stroke="#8fd88f" stroke-width="1.2" stroke-dasharray="2 2"/><circle r="3.5" fill="none" stroke="#8fd88f" stroke-width="1" stroke-dasharray="2 1.5"/></g>
<pattern id="dots" width="3.7" height="3.7" patternUnits="userSpaceOnUse"><circle cx="1.85" cy="1.85" r="0.95" fill="#d8d8d8"/></pattern>
<g id="tree"><circle r="7" fill="#8ed88e" stroke="#7ccb7c" stroke-width="0.8"/><circle cx="-2" cy="-1.5" r="1.4" fill="#a6e6a6"/><circle cx="2.2" cy="1.8" r="1.2" fill="#a6e6a6"/></g>
</defs>
<rect width="1308" height="1080" fill="#fff"/>
<line x1="0.7" y1="0" x2="0.7" y2="1080" stroke="#bdbdbd" stroke-width="1.5"/>
<line x1="0" y1="0.5" x2="1308" y2="0.5" stroke="#c4c4c4" stroke-width="1"/>
<line x1="1306.8" y1="0" x2="1306.8" y2="1080" stroke="#c4c4c4" stroke-width="1"/>
<g fill="#c2c2c2"><rect x="175.4" y="167" width="966.4" height="746"/><rect x="1.5" y="414" width="175" height="252"/></g>
<rect x="175.4" y="167" width="750" height="247" fill="url(#tilesT)"/>
<rect x="925.4" y="167" width="174.6" height="247" fill="url(#tilesT2)"/>
<rect x="1.5" y="425" width="1140.3" height="241" fill="url(#tilesR)"/>
<rect x="175.4" y="666" width="750" height="247" fill="url(#tilesB)"/>
<rect x="925.4" y="666" width="174.6" height="247" fill="url(#tilesB2)"/>
<g fill="#fff" stroke="#555" stroke-width="0.8"><rect x="225" y="360.3" width="347.4" height="53.7" rx="17" ry="17"/><rect x="225.5" y="666" width="347" height="54" rx="17" ry="17"/></g>
<g fill="#fff"><path d="M1163 360.4H938a17 17 0 0 0 -17 17V397a17 17 0 0 0 17 17H1163Z"/><path d="M1163 667.5H939a17 17 0 0 0 -17 17V702.5a17 17 0 0 0 17 17H1163Z"/><path d="M1141.8 360.4H938a17 17 0 0 0 -17 17V397a17 17 0 0 0 17 17H930M1141.8 719.5H939a17 17 0 0 1 -17 -17V684.5a17 17 0 0 1 17 -17H930" fill="none" stroke="#555" stroke-width="0.8"/><rect x="1093" y="416" width="49" height="246"/></g>
<g stroke="#5a5a5a" stroke-width="1"><line x1="1.5" y1="414" x2="225" y2="414"/><line x1="572" y1="414" x2="925" y2="414"/><line x1="1.5" y1="666" x2="225" y2="666"/><line x1="572" y1="666" x2="925" y2="666"/></g>
<use href="#tree" x="51.4" y="20.6"/>
<use href="#tree" x="87.4" y="20.6"/>
<use href="#tree" x="123.2" y="20.6"/>
<use href="#tree" x="51.4" y="126.1"/>
<use href="#tree" x="87.4" y="126.1"/>
<use href="#tree" x="123.2" y="126.1"/>
<use href="#tree" x="51.4" y="162.2"/>
<use href="#tree" x="87.4" y="162.2"/>
<use href="#tree" x="123.2" y="162.2"/>
<use href="#tree" x="51.4" y="198.0"/>
<use href="#tree" x="87.4" y="198.0"/>
<use href="#tree" x="123.2" y="198.0"/>
<use href="#tree" x="51.4" y="234.2"/>
<use href="#tree" x="87.4" y="234.2"/>
<use href="#tree" x="123.2" y="234.2"/>
<use href="#tree" x="51.4" y="270.4"/>
<use href="#tree" x="87.4" y="270.4"/>
<use href="#tree" x="123.2" y="270.4"/>
<use href="#tree" x="51.4" y="306.0"/>
<use href="#tree" x="87.4" y="306.0"/>
<use href="#tree" x="123.2" y="306.0"/>
<use href="#tree" x="51.4" y="342.4"/>
<use href="#tree" x="87.4" y="342.4"/>
<use href="#tree" x="123.2" y="342.4"/>
<use href="#tree" x="51.4" y="378.0"/>
<use href="#tree" x="87.4" y="378.0"/>
<use href="#tree" x="123.2" y="378.0"/>
<use href="#tree" x="51.4" y="702.0"/>
<use href="#tree" x="87.4" y="702.0"/>
<use href="#tree" x="123.2" y="702.0"/>
<use href="#tree" x="51.4" y="738.0"/>
<use href="#tree" x="87.4" y="738.0"/>
<use href="#tree" x="123.2" y="738.0"/>
<use href="#tree" x="51.4" y="774.0"/>
<use href="#tree" x="87.4" y="774.0"/>
<use href="#tree" x="123.2" y="774.0"/>
<use href="#tree" x="51.4" y="810.0"/>
<use href="#tree" x="87.4" y="810.0"/>
<use href="#tree" x="123.2" y="810.0"/>
<use href="#tree" x="51.4" y="846.0"/>
<use href="#tree" x="87.4" y="846.0"/>
<use href="#tree" x="123.2" y="846.0"/>
<use href="#tree" x="51.4" y="882.0"/>
<use href="#tree" x="87.4" y="882.0"/>
<use href="#tree" x="123.2" y="882.0"/>
<use href="#tree" x="51.4" y="918.0"/>
<use href="#tree" x="87.4" y="918.0"/>
<use href="#tree" x="123.2" y="918.0"/>
<use href="#tree" x="51.4" y="954.0"/>
<use href="#tree" x="87.4" y="954.0"/>
<use href="#tree" x="123.2" y="954.0"/>
<use href="#tree" x="51.4" y="1062.0"/>
<use href="#tree" x="87.4" y="1062.0"/>
<use href="#tree" x="123.2" y="1062.0"/>
<use href="#tree" x="51.4" y="55.8"/>
<use href="#tree" x="51.4" y="90.2"/>
<use href="#tree" x="51.4" y="989.5"/>
<use href="#tree" x="51.4" y="1026.0"/>
<g stroke="#3a3a3a" stroke-width="1" fill="none"><path d="M15.3 0V61.5H85.5M15.3 414V82.6H85.5"/><path d="M15.3 666V997.7H85.8M15.3 1080V1018.7H85.8" /><path d="M46 61.5L152.5 14.6M46 82.6L152.5 129.1M46.3 997.7L152.7 950.5M46.3 1018.7L152.7 1065" stroke-width="0.9"/></g>
<rect x="46" y="65" width="106.5" height="13.7" fill="url(#hatch)" stroke="#333" stroke-width="0.6"/>
<rect x="46.3" y="1001.2" width="106.4" height="13.8" fill="url(#hatch)" stroke="#333" stroke-width="0.6"/>
<g stroke="#2f4f2f" stroke-width="1" fill="#6eab6f"><path d="M152.5 14.6H1293.7V1065H152.7V1018.5H1246.6V61.2H152.5Z"/><path d="M152.5 82.7H1225.6V997.6H152.7V950.5H1178.4V129.1H152.5Z"/><path d="M1246.6 61.2L1293.7 14.6M1246.6 1018.5L1293.7 1065M1178.4 129.1L1225.6 82.7M1178.4 950.5L1225.6 997.6" fill="none"/></g>
<g stroke="#b8dcb8" stroke-width="0.7" opacity="0.8"><line x1="1178" y1="14.6" x2="1225.6" y2="61.2"/><line x1="1246.6" y1="998" x2="1293.7" y2="951"/></g>
<g fill="#fff"><text x="180.6" y="51.7" font-size="41.5" stroke="#fff" stroke-width="1.1" textLength="221.7" lengthAdjust="spacingAndGlyphs">DBHD 2.0.1</text><text x="648.3" y="51.8" font-size="41.5" textLength="552.7" lengthAdjust="spacingAndGlyphs">Endlager für HLW (MLW, LLW)</text><text x="180.6" y="119.8" font-size="41.5" textLength="229.4" lengthAdjust="spacingAndGlyphs">.pdf existent</text><text x="652" y="119.8" font-size="41.5" textLength="524" lengthAdjust="spacingAndGlyphs">Exakt so bauen - 23.02.2024</text><text x="204.9" y="987.8" font-size="41.5" textLength="949.3" lengthAdjust="spacingAndGlyphs">alles zusammen in diesem Bild kostet 1,3 Mrd. EUR</text><text x="204.9" y="1055.4" font-size="41.5" textLength="938.7" lengthAdjust="spacingAndGlyphs">Germany - Dipl.-Ing. Arch. Volker Goebel &amp; Friends</text></g>
<path d="M152.6 397.8V144.4H1163.9V935.9H152.6V681" fill="none" stroke="#444" stroke-width="1"/>
<use href="#tree" x="276.2" y="378.3"/>
<use href="#tree" x="276.2" y="701.7"/>
<use href="#tree" x="312.4" y="378.3"/>
<use href="#tree" x="312.4" y="701.7"/>
<use href="#tree" x="348.5" y="378.3"/>
<use href="#tree" x="348.5" y="701.7"/>
<use href="#tree" x="384.6" y="378.3"/>
<use href="#tree" x="384.6" y="701.7"/>
<use href="#tree" x="420.5" y="378.3"/>
<use href="#tree" x="420.5" y="701.7"/>
<use href="#tree" x="456.4" y="378.3"/>
<use href="#tree" x="456.4" y="701.7"/>
<use href="#tree" x="492.3" y="378.3"/>
<use href="#tree" x="492.3" y="701.7"/>
<use href="#tree" x="528.4" y="378.3"/>
<use href="#tree" x="528.4" y="701.7"/>
<use href="#tree" x="258.4" y="396.3"/>
<use href="#tree" x="258.4" y="683.8"/>
<use href="#tree" x="294.5" y="396.3"/>
<use href="#tree" x="294.5" y="683.8"/>
<use href="#tree" x="330.5" y="396.3"/>
<use href="#tree" x="330.5" y="683.8"/>
<use href="#tree" x="366.4" y="396.3"/>
<use href="#tree" x="366.4" y="683.8"/>
<use href="#tree" x="402.3" y="396.3"/>
<use href="#tree" x="402.3" y="683.8"/>
<use href="#tree" x="438.3" y="396.3"/>
<use href="#tree" x="438.3" y="683.8"/>
<use href="#tree" x="474.3" y="396.3"/>
<use href="#tree" x="474.3" y="683.8"/>
<use href="#tree" x="510.3" y="396.3"/>
<use href="#tree" x="510.3" y="683.8"/>
<use href="#tree" x="546.3" y="396.3"/>
<use href="#tree" x="546.3" y="683.8"/>
<use href="#tree" x="960.2" y="378.1"/>
<use href="#tree" x="960.2" y="701.7"/>
<use href="#tree" x="996.0" y="378.1"/>
<use href="#tree" x="996.0" y="701.7"/>
<use href="#tree" x="1032.0" y="378.1"/>
<use href="#tree" x="1032.0" y="701.7"/>
<use href="#tree" x="1067.8" y="378.1"/>
<use href="#tree" x="1067.8" y="701.7"/>
<use href="#tree" x="942.0" y="396.2"/>
<use href="#tree" x="942.0" y="683.9"/>
<use href="#tree" x="977.8" y="396.2"/>
<use href="#tree" x="977.8" y="683.9"/>
<use href="#tree" x="1013.9" y="396.2"/>
<use href="#tree" x="1013.9" y="683.9"/>
<use href="#tree" x="1049.7" y="396.2"/>
<use href="#tree" x="1049.7" y="683.9"/>
<use href="#tree" x="1112.6" y="378.1"/>
<use href="#tree" x="1112.6" y="408.9"/>
<use href="#tree" x="1112.6" y="507.5"/>
<use href="#tree" x="1112.6" y="540.0"/>
<use href="#tree" x="1112.6" y="572.0"/>
<use href="#tree" x="1112.6" y="604.8"/>
<use href="#tree" x="1112.6" y="637.2"/>
<use href="#tree" x="1112.6" y="670.8"/>
<use href="#tree" x="1112.6" y="701.7"/>
<use href="#tree" x="1140.0" y="378.1"/>
<use href="#tree" x="1140.0" y="408.9"/>
<use href="#tree" x="1140.0" y="507.5"/>
<use href="#tree" x="1140.0" y="540.0"/>
<use href="#tree" x="1140.0" y="572.0"/>
<use href="#tree" x="1140.0" y="604.8"/>
<use href="#tree" x="1140.0" y="637.2"/>
<use href="#tree" x="1140.0" y="670.8"/>
<use href="#tree" x="1140.0" y="701.7"/>
<path d="M175.4 414V167H1141.8V360.4M1141.8 719.6V913H175.4V666" fill="none" stroke="#6a6a6a" stroke-width="0.8"/>
<g stroke="#3d3d3d" stroke-width="1.2" fill="none"><path d="M32.7 483.3V397.8H153.5V422.2H135.5"/><path d="M25 484H32.7M32.7 493.3V506"/><path d="M32.7 475H152.7M135.5 458.3H152.7M152.7 450V499.4"/><path d="M32.7 573.5V621.4H51.3"/><path d="M32.7 605.8H152.7M152.7 580V605.8M152.5 596.2H161M153.5 596.2V658"/><path d="M32.7 681.1V658.3H51.3M32.7 681.1H153.5V640"/></g>
<g fill="#fff" stroke="#3d3d3d" stroke-width="0.6"><circle cx="93.3" cy="397.8" r="1.3"/><circle cx="153.5" cy="397.8" r="1.3"/><circle cx="32.7" cy="421" r="1.3"/><circle cx="32.7" cy="459" r="1.3"/><circle cx="93.3" cy="475" r="1.3"/><circle cx="152.7" cy="452" r="1.3"/><circle cx="152.7" cy="468.8" r="1.3"/><circle cx="152.7" cy="484" r="1.3"/><circle cx="32.7" cy="493.3" r="1.3"/><circle cx="93.3" cy="605.8" r="1.3"/><circle cx="153.5" cy="620" r="1.3"/><circle cx="153.5" cy="640" r="1.3"/><circle cx="93.3" cy="681.1" r="1.3"/><circle cx="153.5" cy="681.1" r="1.3"/><circle cx="32.7" cy="586" r="1.3"/><circle cx="152.7" cy="590" r="1.3"/></g>
<g stroke="#444" stroke-width="0.8" fill="none"><path d="M161.8 296V414M164.4 296V414M161.8 666V711M164.4 666V711"/></g>
<line x1="163.1" y1="414" x2="163.1" y2="666" stroke="#333" stroke-width="1.2"/><line x1="163.1" y1="711" x2="163.1" y2="784" stroke="#333" stroke-width="1.2"/>
<rect x="159" y="298.8" width="3" height="3" fill="#fff" stroke="#444" stroke-width="0.6"/><rect x="164.6" y="298.8" width="3" height="3" fill="#fff" stroke="#444" stroke-width="0.6"/>
<rect x="159" y="351.5" width="3" height="3" fill="#fff" stroke="#444" stroke-width="0.6"/><rect x="164.6" y="351.5" width="3" height="3" fill="#fff" stroke="#444" stroke-width="0.6"/>
<rect x="159" y="404.3" width="3" height="3" fill="#fff" stroke="#444" stroke-width="0.6"/><rect x="164.6" y="404.3" width="3" height="3" fill="#fff" stroke="#444" stroke-width="0.6"/>
<rect x="159" y="473.5" width="3" height="3" fill="#fff" stroke="#444" stroke-width="0.6"/><rect x="164.6" y="473.5" width="3" height="3" fill="#fff" stroke="#444" stroke-width="0.6"/>
<rect x="159" y="603.5" width="3" height="3" fill="#fff" stroke="#444" stroke-width="0.6"/><rect x="164.6" y="603.5" width="3" height="3" fill="#fff" stroke="#444" stroke-width="0.6"/>
<rect x="159" y="673.5" width="3" height="3" fill="#fff" stroke="#444" stroke-width="0.6"/><rect x="164.6" y="673.5" width="3" height="3" fill="#fff" stroke="#444" stroke-width="0.6"/>
<rect x="159" y="725.5" width="3" height="3" fill="#fff" stroke="#444" stroke-width="0.6"/><rect x="164.6" y="725.5" width="3" height="3" fill="#fff" stroke="#444" stroke-width="0.6"/>
<rect x="159" y="778.5" width="3" height="3" fill="#fff" stroke="#444" stroke-width="0.6"/><rect x="164.6" y="778.5" width="3" height="3" fill="#fff" stroke="#444" stroke-width="0.6"/>
<rect x="51.300000000000004" y="487.8" width="2.6" height="2.6" fill="#111" transform="rotate(45 52.6 489.1)"/>
<rect x="73.0" y="487.8" width="2.6" height="2.6" fill="#111" transform="rotate(45 74.3 489.1)"/>
<rect x="137.7" y="487.8" width="2.6" height="2.6" fill="#111" transform="rotate(45 139 489.1)"/>
<rect x="26.7" y="590.7" width="2.6" height="2.6" fill="#111" transform="rotate(45 28 592)"/>
<rect x="65.7" y="590.7" width="2.6" height="2.6" fill="#111" transform="rotate(45 67 592)"/>
<rect x="108.7" y="590.7" width="2.6" height="2.6" fill="#111" transform="rotate(45 110 592)"/>
<g><rect x="80" y="436.3" width="43.5" height="9.2" rx="1.8" fill="#2e2e2e"/><rect x="81.9" y="437.3" width="6.2" height="3.1" fill="#f4f4f4"/><rect x="89.3" y="437.3" width="4.9" height="3.1" fill="#f4f4f4"/><rect x="95.4" y="437.3" width="4.5" height="3.1" fill="#f4f4f4"/><rect x="101.0" y="437.3" width="4.5" height="3.1" fill="#f4f4f4"/><rect x="106.7" y="437.3" width="4.9" height="3.1" fill="#f4f4f4"/><rect x="112.8" y="437.3" width="4.5" height="3.1" fill="#f4f4f4"/><rect x="118.4" y="437.3" width="3.1" height="3.1" fill="#f4f4f4"/><rect x="81.9" y="441.4" width="6.2" height="3.1" fill="#f4f4f4"/><rect x="89.3" y="441.4" width="4.9" height="3.1" fill="#f4f4f4"/><rect x="95.4" y="441.4" width="4.5" height="3.1" fill="#f4f4f4"/><rect x="101.0" y="441.4" width="4.5" height="3.1" fill="#f4f4f4"/><rect x="106.7" y="441.4" width="4.9" height="3.1" fill="#f4f4f4"/><rect x="112.8" y="441.4" width="4.5" height="3.1" fill="#f4f4f4"/><rect x="118.4" y="441.4" width="3.1" height="3.1" fill="#f4f4f4"/><line x1="81" y1="440.9" x2="122.5" y2="440.9" stroke="#888" stroke-width="0.8"/><path d="M80 438.40000000000003L75 440.90000000000003L80 443.40000000000003Z" fill="#111"/></g>
<g stroke="#222" stroke-width="0.8" fill="#fff"><rect x="70.5" y="635.3" width="51" height="9.6"/><rect x="123" y="635.3" width="20" height="9.6" rx="2"/></g>
<g><rect x="123.2" y="499.3" width="68.2" height="81.4" fill="#c0c0c0" stroke="#333" stroke-width="0.9"/><rect x="125.5" y="505" width="63.6" height="70" fill="none" stroke="#666" stroke-width="0.7"/><rect x="123.2" y="499.3" width="68.2" height="7.8" fill="#222"/><rect x="123.2" y="572.9" width="68.2" height="7.8" fill="#222"/><rect x="123.2" y="499.3" width="68.2" height="7.8" fill="url(#dots)" opacity="0.6"/><rect x="123.2" y="572.9" width="68.2" height="7.8" fill="url(#dots)" opacity="0.6"/><g stroke="#777" stroke-width="0.8"><line x1="125" y1="527" x2="190" y2="527"/><line x1="125" y1="528.3" x2="190" y2="528.3"/><line x1="125" y1="552.2" x2="190" y2="552.2"/><line x1="125" y1="553.5" x2="190" y2="553.5"/></g><rect x="125.6" y="521" width="13" height="5.1" fill="#7a1a22"/><rect x="127.5" y="522.3" width="3.5" height="2.5" fill="#e8c8c8"/><rect x="132.5" y="522.3" width="3.5" height="2.5" fill="#e8c8c8"/><rect x="125.6" y="554.4" width="13" height="5.1" fill="#7a1a22"/><rect x="127.5" y="555.7" width="3.5" height="2.5" fill="#e8c8c8"/><rect x="132.5" y="555.7" width="3.5" height="2.5" fill="#e8c8c8"/><rect x="150.2" y="521" width="32.8" height="5.1" fill="#4a4a4a"/><rect x="164" y="521.5" width="4" height="4" fill="#ddd"/><rect x="150.2" y="554.4" width="32.8" height="5.1" fill="#4a4a4a"/><rect x="164" y="554.9" width="4" height="4" fill="#ddd"/><rect x="131.7" y="509" width="3.7" height="6" rx="1" fill="#fff" stroke="#333" stroke-width="0.5"/><circle cx="129.3" cy="511.3" r="1.1" fill="#111"/><rect x="131.7" y="565.5" width="3.7" height="6" rx="1" fill="#fff" stroke="#333" stroke-width="0.5"/><circle cx="129.3" cy="568.8" r="1.1" fill="#111"/></g>
<g fill="#fff" stroke="#555" stroke-width="0.8"><rect x="33" y="506.3" width="90.5" height="33.7"/><rect x="33" y="540" width="90.5" height="33.2"/></g>
<use href="#bigtree" x="50.8" y="522.2"/>
<use href="#bigtree" x="87.2" y="522.2"/>
<use href="#bigtree" x="50.8" y="557.7"/>
<use href="#bigtree" x="87.2" y="557.7"/>
<g transform="translate(226.7 353.2) rotate(-37)" stroke="#222" stroke-width="0.9" fill="#fff"><rect x="-17" y="-4.3" width="25" height="8.6"/><rect x="8.8" y="-4.3" width="8.5" height="8.6" rx="2"/></g>
<g stroke="#222" stroke-width="0.8" fill="#fff"><rect x="294.5" y="424.3" width="10.5" height="9" rx="1.5"/><rect x="306.3" y="424.3" width="60.4" height="9"/></g>
<g stroke="#111" stroke-width="1.1" fill="#fff"><rect x="416.5" y="418.5" width="6.4" height="17" rx="2"/><line x1="416.5" y1="423.6" x2="422.9" y2="423.6"/><line x1="416.5" y1="431.2" x2="422.9" y2="431.2"/><rect x="431.0" y="418.5" width="6.4" height="17" rx="2"/><line x1="431.0" y1="423.6" x2="437.4" y2="423.6"/><line x1="431.0" y1="431.2" x2="437.4" y2="431.2"/><rect x="445.5" y="418.5" width="6.4" height="17" rx="2"/><line x1="445.5" y1="423.6" x2="451.9" y2="423.6"/><line x1="445.5" y1="431.2" x2="451.9" y2="431.2"/><rect x="459.8" y="418.5" width="6.4" height="17" rx="2"/><line x1="459.8" y1="423.6" x2="466.2" y2="423.6"/><line x1="459.8" y1="431.2" x2="466.2" y2="431.2"/><rect x="474.3" y="418.5" width="6.4" height="17" rx="2"/><line x1="474.3" y1="423.6" x2="480.7" y2="423.6"/><line x1="474.3" y1="431.2" x2="480.7" y2="431.2"/></g>
<g stroke="#111" stroke-width="1.1" fill="#fff"><rect x="287.0" y="645.5" width="6.4" height="17" rx="2"/><line x1="287.0" y1="650.6" x2="293.4" y2="650.6"/><line x1="287.0" y1="658.2" x2="293.4" y2="658.2"/><rect x="301.3" y="645.5" width="6.4" height="17" rx="2"/><line x1="301.3" y1="650.6" x2="307.7" y2="650.6"/><line x1="301.3" y1="658.2" x2="307.7" y2="658.2"/><rect x="315.5" y="645.5" width="6.4" height="17" rx="2"/><line x1="315.5" y1="650.6" x2="321.9" y2="650.6"/><line x1="315.5" y1="658.2" x2="321.9" y2="658.2"/><rect x="329.8" y="645.5" width="6.4" height="17" rx="2"/><line x1="329.8" y1="650.6" x2="336.2" y2="650.6"/><line x1="329.8" y1="658.2" x2="336.2" y2="658.2"/><rect x="344.2" y="645.5" width="6.4" height="17" rx="2"/><line x1="344.2" y1="650.6" x2="350.6" y2="650.6"/><line x1="344.2" y1="658.2" x2="350.6" y2="658.2"/></g>
<g><rect x="477" y="652.2" width="45" height="9" rx="1.8" fill="#2e2e2e"/><rect x="479.0" y="653.2" width="6.5" height="3.0" fill="#f4f4f4"/><rect x="486.6" y="653.2" width="5.1" height="3.0" fill="#f4f4f4"/><rect x="492.9" y="653.2" width="4.6" height="3.0" fill="#f4f4f4"/><rect x="498.8" y="653.2" width="4.7" height="3.0" fill="#f4f4f4"/><rect x="504.6" y="653.2" width="5.1" height="3.0" fill="#f4f4f4"/><rect x="510.9" y="653.2" width="4.7" height="3.0" fill="#f4f4f4"/><rect x="516.8" y="653.2" width="3.3" height="3.0" fill="#f4f4f4"/><rect x="479.0" y="657.2" width="6.5" height="3.0" fill="#f4f4f4"/><rect x="486.6" y="657.2" width="5.1" height="3.0" fill="#f4f4f4"/><rect x="492.9" y="657.2" width="4.6" height="3.0" fill="#f4f4f4"/><rect x="498.8" y="657.2" width="4.7" height="3.0" fill="#f4f4f4"/><rect x="504.6" y="657.2" width="5.1" height="3.0" fill="#f4f4f4"/><rect x="510.9" y="657.2" width="4.7" height="3.0" fill="#f4f4f4"/><rect x="516.8" y="657.2" width="3.3" height="3.0" fill="#f4f4f4"/><line x1="478" y1="656.7" x2="521" y2="656.7" stroke="#888" stroke-width="0.8"/><path d="M522 654.2L527 656.7L522 659.2Z" fill="#111"/></g>
<g><rect x="175.4" y="166.4" width="217.3" height="157.79999999999998" fill="#fff" stroke="#444" stroke-width="0.8"/><rect x="178.6" y="170.4" width="211" height="149.79999999999998" fill="#c2c2c2" stroke="#444" stroke-width="0.8"/><rect x="178.6" y="170.4" width="211" height="149.79999999999998" fill="url(#tiles)"/><circle cx="200.9" cy="191.8" r="21.6" fill="none" stroke="#2a2a2a" stroke-width="1"/><circle cx="256" cy="191.8" r="21.6" fill="none" stroke="#2a2a2a" stroke-width="1"/><circle cx="312" cy="191.8" r="21.6" fill="none" stroke="#2a2a2a" stroke-width="1"/><circle cx="367.4" cy="191.8" r="21.6" fill="none" stroke="#2a2a2a" stroke-width="1"/><circle cx="228.2" cy="225.5" r="21.6" fill="none" stroke="#2a2a2a" stroke-width="1"/><circle cx="284" cy="225.5" r="21.6" fill="none" stroke="#2a2a2a" stroke-width="1"/><circle cx="340" cy="225.5" r="21.6" fill="none" stroke="#2a2a2a" stroke-width="1"/><circle cx="200.9" cy="259.7" r="21.6" fill="none" stroke="#2a2a2a" stroke-width="1"/><circle cx="256" cy="259.7" r="21.6" fill="none" stroke="#2a2a2a" stroke-width="1"/><circle cx="312" cy="259.7" r="21.6" fill="none" stroke="#2a2a2a" stroke-width="1"/><circle cx="367.4" cy="259.7" r="21.6" fill="none" stroke="#2a2a2a" stroke-width="1"/><circle cx="228.2" cy="293.2" r="21.6" fill="none" stroke="#2a2a2a" stroke-width="1"/><circle cx="284" cy="293.2" r="21.6" fill="none" stroke="#2a2a2a" stroke-width="1"/><circle cx="340" cy="293.2" r="21.6" fill="none" stroke="#2a2a2a" stroke-width="1"/><rect x="205.6" y="320.59999999999997" width="3.6" height="3.6" fill="#fff" stroke="#444" stroke-width="0.6"/><rect x="236.39999999999998" y="320.59999999999997" width="3.6" height="3.6" fill="#fff" stroke="#444" stroke-width="0.6"/><rect x="266.4" y="320.59999999999997" width="3.6" height="3.6" fill="#fff" stroke="#444" stroke-width="0.6"/><rect x="297.2" y="320.59999999999997" width="3.6" height="3.6" fill="#fff" stroke="#444" stroke-width="0.6"/><rect x="327.8" y="320.59999999999997" width="3.6" height="3.6" fill="#fff" stroke="#444" stroke-width="0.6"/><rect x="358.2" y="320.59999999999997" width="3.6" height="3.6" fill="#fff" stroke="#444" stroke-width="0.6"/></g>
<g><rect x="175.4" y="755.7" width="217.3" height="157.0999999999999" fill="#fff" stroke="#444" stroke-width="0.8"/><rect x="178.6" y="759.7" width="211" height="149.0999999999999" fill="#c2c2c2" stroke="#444" stroke-width="0.8"/><rect x="178.6" y="759.7" width="211" height="149.0999999999999" fill="url(#tiles)"/><circle cx="228.4" cy="786.7" r="21.6" fill="none" stroke="#2a2a2a" stroke-width="1"/><circle cx="284.2" cy="786.7" r="21.6" fill="none" stroke="#2a2a2a" stroke-width="1"/><circle cx="335.3" cy="786.7" r="21.6" fill="none" stroke="#2a2a2a" stroke-width="1"/><circle cx="201" cy="820.4" r="21.6" fill="none" stroke="#2a2a2a" stroke-width="1"/><circle cx="256" cy="820.4" r="21.6" fill="none" stroke="#2a2a2a" stroke-width="1"/><circle cx="307.6" cy="820.4" r="21.6" fill="none" stroke="#2a2a2a" stroke-width="1"/><circle cx="363.3" cy="820.4" r="21.6" fill="none" stroke="#2a2a2a" stroke-width="1"/><circle cx="228.4" cy="854.4" r="21.6" fill="none" stroke="#2a2a2a" stroke-width="1"/><circle cx="284.2" cy="854.4" r="21.6" fill="none" stroke="#2a2a2a" stroke-width="1"/><circle cx="335.3" cy="854.4" r="21.6" fill="none" stroke="#2a2a2a" stroke-width="1"/><circle cx="201" cy="888" r="21.6" fill="none" stroke="#2a2a2a" stroke-width="1"/><circle cx="256" cy="888" r="21.6" fill="none" stroke="#2a2a2a" stroke-width="1"/><circle cx="307.6" cy="888" r="21.6" fill="none" stroke="#2a2a2a" stroke-width="1"/><circle cx="363.3" cy="888" r="21.6" fill="none" stroke="#2a2a2a" stroke-width="1"/><rect x="205.6" y="755.8000000000001" width="3.6" height="3.6" fill="#fff" stroke="#444" stroke-width="0.6"/><rect x="236.39999999999998" y="755.8000000000001" width="3.6" height="3.6" fill="#fff" stroke="#444" stroke-width="0.6"/><rect x="266.4" y="755.8000000000001" width="3.6" height="3.6" fill="#fff" stroke="#444" stroke-width="0.6"/><rect x="297.2" y="755.8000000000001" width="3.6" height="3.6" fill="#fff" stroke="#444" stroke-width="0.6"/><rect x="327.8" y="755.8000000000001" width="3.6" height="3.6" fill="#fff" stroke="#444" stroke-width="0.6"/><rect x="358.2" y="755.8000000000001" width="3.6" height="3.6" fill="#fff" stroke="#444" stroke-width="0.6"/></g>
<g><rect x="603" y="167.7" width="109.7" height="155.9" fill="#fff" stroke="#444" stroke-width="0.8"/><rect x="607.5" y="172" width="101" height="148" fill="#fff" stroke="#555" stroke-width="0.6"/><rect x="610.5" y="174.5" width="95" height="143" fill="#c2c2c2" stroke="#555" stroke-width="0.6"/><rect x="617.8" y="176" width="80.60000000000002" height="122.4" fill="#b9b9b9"/><g stroke="#1e1e1e" stroke-width="1.1"><line x1="617.80" y1="176" x2="617.80" y2="298.4"/><line x1="624.52" y1="176" x2="624.52" y2="298.4"/><line x1="631.23" y1="176" x2="631.23" y2="298.4"/><line x1="637.95" y1="176" x2="637.95" y2="298.4"/><line x1="644.67" y1="176" x2="644.67" y2="298.4"/><line x1="651.38" y1="176" x2="651.38" y2="298.4"/><line x1="658.10" y1="176" x2="658.10" y2="298.4"/><line x1="664.82" y1="176" x2="664.82" y2="298.4"/><line x1="671.53" y1="176" x2="671.53" y2="298.4"/><line x1="678.25" y1="176" x2="678.25" y2="298.4"/><line x1="684.97" y1="176" x2="684.97" y2="298.4"/><line x1="691.68" y1="176" x2="691.68" y2="298.4"/><line x1="698.40" y1="176" x2="698.40" y2="298.4"/><line x1="617.8" y1="176.00" x2="698.4" y2="176.00"/><line x1="617.8" y1="182.80" x2="698.4" y2="182.80"/><line x1="617.8" y1="189.60" x2="698.4" y2="189.60"/><line x1="617.8" y1="196.40" x2="698.4" y2="196.40"/><line x1="617.8" y1="203.20" x2="698.4" y2="203.20"/><line x1="617.8" y1="210.00" x2="698.4" y2="210.00"/><line x1="617.8" y1="216.80" x2="698.4" y2="216.80"/><line x1="617.8" y1="223.60" x2="698.4" y2="223.60"/><line x1="617.8" y1="230.40" x2="698.4" y2="230.40"/><line x1="617.8" y1="237.20" x2="698.4" y2="237.20"/><line x1="617.8" y1="244.00" x2="698.4" y2="244.00"/><line x1="617.8" y1="250.80" x2="698.4" y2="250.80"/><line x1="617.8" y1="257.60" x2="698.4" y2="257.60"/><line x1="617.8" y1="264.40" x2="698.4" y2="264.40"/><line x1="617.8" y1="271.20" x2="698.4" y2="271.20"/><line x1="617.8" y1="278.00" x2="698.4" y2="278.00"/><line x1="617.8" y1="284.80" x2="698.4" y2="284.80"/><line x1="617.8" y1="291.60" x2="698.4" y2="291.60"/><line x1="617.8" y1="298.40" x2="698.4" y2="298.40"/></g><rect x="629.5" y="198" width="7.8" height="30.5" fill="#1a1a1a"/><rect x="629.5" y="198" width="7.8" height="30.5" fill="url(#dots)"/><rect x="629.5" y="255" width="7.8" height="30.5" fill="#1a1a1a"/><rect x="629.5" y="255" width="7.8" height="30.5" fill="url(#dots)"/><rect x="632.4" y="177" width="2" height="13" fill="#e04848"/><rect x="632.4" y="229" width="2" height="18.5" fill="#e04848"/><rect x="632.4" y="284" width="2" height="8" fill="#e04848"/><rect x="654.1" y="198" width="7.8" height="30.5" fill="#1a1a1a"/><rect x="654.1" y="198" width="7.8" height="30.5" fill="url(#dots)"/><rect x="654.1" y="255" width="7.8" height="30.5" fill="#1a1a1a"/><rect x="654.1" y="255" width="7.8" height="30.5" fill="url(#dots)"/><rect x="657" y="177" width="2" height="13" fill="#e04848"/><rect x="657" y="229" width="2" height="18.5" fill="#e04848"/><rect x="657" y="284" width="2" height="8" fill="#e04848"/><rect x="679.5" y="198" width="7.8" height="30.5" fill="#1a1a1a"/><rect x="679.5" y="198" width="7.8" height="30.5" fill="url(#dots)"/><rect x="679.5" y="255" width="7.8" height="30.5" fill="#1a1a1a"/><rect x="679.5" y="255" width="7.8" height="30.5" fill="url(#dots)"/><rect x="682.4" y="177" width="2" height="13" fill="#e04848"/><rect x="682.4" y="229" width="2" height="18.5" fill="#e04848"/><rect x="682.4" y="284" width="2" height="8" fill="#e04848"/><rect x="618.5" y="245" width="3.5" height="40" fill="#555"/><rect x="694.5" y="245" width="3.5" height="40" fill="#555"/><path d="M617.8 299.5H622V312H629.5V316.4H617.8Z" fill="#7a7a7a" stroke="#222" stroke-width="0.6"/><path d="M698.4 299.5H694.2V312H686.7V316.4H698.4Z" fill="#7a7a7a" stroke="#222" stroke-width="0.6"/><line x1="648" y1="315.5" x2="667" y2="315.5" stroke="#222" stroke-width="1.3"/><rect x="620" y="319.5" width="14" height="3" fill="#888"/><rect x="681" y="319.5" width="14" height="3" fill="#888"/></g><g><rect x="711.4" y="166.5" width="215.8" height="157.5" fill="#fff" stroke="#444" stroke-width="0.8"/><rect x="714" y="169.5" width="210" height="151.5" fill="none" stroke="#555" stroke-width="0.6"/><rect x="717.4" y="173.9" width="202.4" height="144.1" fill="#c2c2c2" stroke="#555" stroke-width="0.6"/><rect x="717.4" y="173.9" width="202.39999999999998" height="108.2" fill="#bdbdbd"/><g stroke="#262626" stroke-width="1.3"><line x1="717.40" y1="173.9" x2="717.40" y2="282.1"/><line x1="725.18" y1="173.9" x2="725.18" y2="282.1"/><line x1="732.97" y1="173.9" x2="732.97" y2="282.1"/><line x1="740.75" y1="173.9" x2="740.75" y2="282.1"/><line x1="748.54" y1="173.9" x2="748.54" y2="282.1"/><line x1="756.32" y1="173.9" x2="756.32" y2="282.1"/><line x1="764.11" y1="173.9" x2="764.11" y2="282.1"/><line x1="771.89" y1="173.9" x2="771.89" y2="282.1"/><line x1="779.68" y1="173.9" x2="779.68" y2="282.1"/><line x1="787.46" y1="173.9" x2="787.46" y2="282.1"/><line x1="795.25" y1="173.9" x2="795.25" y2="282.1"/><line x1="803.03" y1="173.9" x2="803.03" y2="282.1"/><line x1="810.82" y1="173.9" x2="810.82" y2="282.1"/><line x1="818.60" y1="173.9" x2="818.60" y2="282.1"/><line x1="826.38" y1="173.9" x2="826.38" y2="282.1"/><line x1="834.17" y1="173.9" x2="834.17" y2="282.1"/><line x1="841.95" y1="173.9" x2="841.95" y2="282.1"/><line x1="849.74" y1="173.9" x2="849.74" y2="282.1"/><line x1="857.52" y1="173.9" x2="857.52" y2="282.1"/><line x1="865.31" y1="173.9" x2="865.31" y2="282.1"/><line x1="873.09" y1="173.9" x2="873.09" y2="282.1"/><line x1="880.88" y1="173.9" x2="880.88" y2="282.1"/><line x1="888.66" y1="173.9" x2="888.66" y2="282.1"/><line x1="896.45" y1="173.9" x2="896.45" y2="282.1"/><line x1="904.23" y1="173.9" x2="904.23" y2="282.1"/><line x1="912.02" y1="173.9" x2="912.02" y2="282.1"/><line x1="919.80" y1="173.9" x2="919.80" y2="282.1"/><line x1="717.4" y1="173.9" x2="919.8" y2="173.9"/><line x1="717.4" y1="177.6" x2="919.8" y2="177.6"/><line x1="717.4" y1="193.1" x2="919.8" y2="193.1"/><line x1="717.4" y1="219.4" x2="919.8" y2="219.4"/><line x1="717.4" y1="225.2" x2="919.8" y2="225.2"/><line x1="717.4" y1="247.2" x2="919.8" y2="247.2"/><line x1="717.4" y1="267.4" x2="919.8" y2="267.4"/><line x1="717.4" y1="274.8" x2="919.8" y2="274.8"/><line x1="717.4" y1="282.1" x2="919.8" y2="282.1"/></g><rect x="749.5" y="175.7" width="7.4" height="43.70000000000002" fill="#1c1c1c"/><rect x="749.5" y="175.7" width="7.4" height="43.70000000000002" fill="url(#dots)"/><rect x="749.5" y="225.2" width="7.4" height="41.30000000000001" fill="#1c1c1c"/><rect x="749.5" y="225.2" width="7.4" height="41.30000000000001" fill="url(#dots)"/><rect x="750.6" y="282.1" width="5.2" height="21.4" fill="#8a8a8a" stroke="#333" stroke-width="0.5"/><rect x="788.5999999999999" y="175.7" width="7.4" height="43.70000000000002" fill="#1c1c1c"/><rect x="788.5999999999999" y="175.7" width="7.4" height="43.70000000000002" fill="url(#dots)"/><rect x="788.5999999999999" y="225.2" width="7.4" height="41.30000000000001" fill="#1c1c1c"/><rect x="788.5999999999999" y="225.2" width="7.4" height="41.30000000000001" fill="url(#dots)"/><rect x="789.6999999999999" y="282.1" width="5.2" height="21.4" fill="#8a8a8a" stroke="#333" stroke-width="0.5"/><rect x="827.9" y="175.7" width="7.4" height="43.70000000000002" fill="#1c1c1c"/><rect x="827.9" y="175.7" width="7.4" height="43.70000000000002" fill="url(#dots)"/><rect x="827.9" y="225.2" width="7.4" height="41.30000000000001" fill="#1c1c1c"/><rect x="827.9" y="225.2" width="7.4" height="41.30000000000001" fill="url(#dots)"/><rect x="829.0" y="282.1" width="5.2" height="21.4" fill="#8a8a8a" stroke="#333" stroke-width="0.5"/><rect x="866.9" y="175.7" width="7.4" height="43.70000000000002" fill="#1c1c1c"/><rect x="866.9" y="175.7" width="7.4" height="43.70000000000002" fill="url(#dots)"/><rect x="866.9" y="225.2" width="7.4" height="41.30000000000001" fill="#1c1c1c"/><rect x="866.9" y="225.2" width="7.4" height="41.30000000000001" fill="url(#dots)"/><rect x="868.0" y="282.1" width="5.2" height="21.4" fill="#8a8a8a" stroke="#333" stroke-width="0.5"/><rect x="906.3" y="175.7" width="7.4" height="43.70000000000002" fill="#1c1c1c"/><rect x="906.3" y="175.7" width="7.4" height="43.70000000000002" fill="url(#dots)"/><rect x="906.3" y="225.2" width="7.4" height="41.30000000000001" fill="#1c1c1c"/><rect x="906.3" y="225.2" width="7.4" height="41.30000000000001" fill="url(#dots)"/><rect x="907.4" y="282.1" width="5.2" height="21.4" fill="#8a8a8a" stroke="#333" stroke-width="0.5"/><rect x="717.9" y="282.1" width="5.2" height="21.4" fill="#8a8a8a" stroke="#333" stroke-width="0.5"/><rect x="718.6" y="225.2" width="5" height="26" fill="#777" stroke="#333" stroke-width="0.5"/><rect x="759.0" y="225.2" width="5" height="26" fill="#777" stroke="#333" stroke-width="0.5"/><rect x="798.1" y="225.2" width="5" height="26" fill="#777" stroke="#333" stroke-width="0.5"/><rect x="837.3" y="225.2" width="5" height="26" fill="#777" stroke="#333" stroke-width="0.5"/><rect x="876.9" y="225.2" width="5" height="26" fill="#777" stroke="#333" stroke-width="0.5"/><rect x="914.0" y="225.2" width="5" height="26" fill="#777" stroke="#333" stroke-width="0.5"/><rect x="736.0" y="295" width="3.2" height="29" rx="1.5" fill="#999" stroke="#333" stroke-width="0.6"/><rect x="775.1" y="295" width="3.2" height="29" rx="1.5" fill="#999" stroke="#333" stroke-width="0.6"/><rect x="814.4" y="295" width="3.2" height="29" rx="1.5" fill="#999" stroke="#333" stroke-width="0.6"/><rect x="853.4" y="295" width="3.2" height="29" rx="1.5" fill="#999" stroke="#333" stroke-width="0.6"/><rect x="892.4" y="295" width="3.2" height="29" rx="1.5" fill="#999" stroke="#333" stroke-width="0.6"/><rect x="717.4" y="318" width="202.4" height="2.5" fill="#fff" stroke="#555" stroke-width="0.5"/></g>
<g transform="translate(0 1080) scale(1 -1)"><g><rect x="603" y="167.7" width="109.7" height="155.9" fill="#fff" stroke="#444" stroke-width="0.8"/><rect x="607.5" y="172" width="101" height="148" fill="#fff" stroke="#555" stroke-width="0.6"/><rect x="610.5" y="174.5" width="95" height="143" fill="#c2c2c2" stroke="#555" stroke-width="0.6"/><rect x="617.8" y="176" width="80.60000000000002" height="122.4" fill="#b9b9b9"/><g stroke="#1e1e1e" stroke-width="1.1"><line x1="617.80" y1="176" x2="617.80" y2="298.4"/><line x1="624.52" y1="176" x2="624.52" y2="298.4"/><line x1="631.23" y1="176" x2="631.23" y2="298.4"/><line x1="637.95" y1="176" x2="637.95" y2="298.4"/><line x1="644.67" y1="176" x2="644.67" y2="298.4"/><line x1="651.38" y1="176" x2="651.38" y2="298.4"/><line x1="658.10" y1="176" x2="658.10" y2="298.4"/><line x1="664.82" y1="176" x2="664.82" y2="298.4"/><line x1="671.53" y1="176" x2="671.53" y2="298.4"/><line x1="678.25" y1="176" x2="678.25" y2="298.4"/><line x1="684.97" y1="176" x2="684.97" y2="298.4"/><line x1="691.68" y1="176" x2="691.68" y2="298.4"/><line x1="698.40" y1="176" x2="698.40" y2="298.4"/><line x1="617.8" y1="176.00" x2="698.4" y2="176.00"/><line x1="617.8" y1="182.80" x2="698.4" y2="182.80"/><line x1="617.8" y1="189.60" x2="698.4" y2="189.60"/><line x1="617.8" y1="196.40" x2="698.4" y2="196.40"/><line x1="617.8" y1="203.20" x2="698.4" y2="203.20"/><line x1="617.8" y1="210.00" x2="698.4" y2="210.00"/><line x1="617.8" y1="216.80" x2="698.4" y2="216.80"/><line x1="617.8" y1="223.60" x2="698.4" y2="223.60"/><line x1="617.8" y1="230.40" x2="698.4" y2="230.40"/><line x1="617.8" y1="237.20" x2="698.4" y2="237.20"/><line x1="617.8" y1="244.00" x2="698.4" y2="244.00"/><line x1="617.8" y1="250.80" x2="698.4" y2="250.80"/><line x1="617.8" y1="257.60" x2="698.4" y2="257.60"/><line x1="617.8" y1="264.40" x2="698.4" y2="264.40"/><line x1="617.8" y1="271.20" x2="698.4" y2="271.20"/><line x1="617.8" y1="278.00" x2="698.4" y2="278.00"/><line x1="617.8" y1="284.80" x2="698.4" y2="284.80"/><line x1="617.8" y1="291.60" x2="698.4" y2="291.60"/><line x1="617.8" y1="298.40" x2="698.4" y2="298.40"/></g><rect x="629.5" y="198" width="7.8" height="30.5" fill="#1a1a1a"/><rect x="629.5" y="198" width="7.8" height="30.5" fill="url(#dots)"/><rect x="629.5" y="255" width="7.8" height="30.5" fill="#1a1a1a"/><rect x="629.5" y="255" width="7.8" height="30.5" fill="url(#dots)"/><rect x="632.4" y="177" width="2" height="13" fill="#e04848"/><rect x="632.4" y="229" width="2" height="18.5" fill="#e04848"/><rect x="632.4" y="284" width="2" height="8" fill="#e04848"/><rect x="654.1" y="198" width="7.8" height="30.5" fill="#1a1a1a"/><rect x="654.1" y="198" width="7.8" height="30.5" fill="url(#dots)"/><rect x="654.1" y="255" width="7.8" height="30.5" fill="#1a1a1a"/><rect x="654.1" y="255" width="7.8" height="30.5" fill="url(#dots)"/><rect x="657" y="177" width="2" height="13" fill="#e04848"/><rect x="657" y="229" width="2" height="18.5" fill="#e04848"/><rect x="657" y="284" width="2" height="8" fill="#e04848"/><rect x="679.5" y="198" width="7.8" height="30.5" fill="#1a1a1a"/><rect x="679.5" y="198" width="7.8" height="30.5" fill="url(#dots)"/><rect x="679.5" y="255" width="7.8" height="30.5" fill="#1a1a1a"/><rect x="679.5" y="255" width="7.8" height="30.5" fill="url(#dots)"/><rect x="682.4" y="177" width="2" height="13" fill="#e04848"/><rect x="682.4" y="229" width="2" height="18.5" fill="#e04848"/><rect x="682.4" y="284" width="2" height="8" fill="#e04848"/><rect x="618.5" y="245" width="3.5" height="40" fill="#555"/><rect x="694.5" y="245" width="3.5" height="40" fill="#555"/><path d="M617.8 299.5H622V312H629.5V316.4H617.8Z" fill="#7a7a7a" stroke="#222" stroke-width="0.6"/><path d="M698.4 299.5H694.2V312H686.7V316.4H698.4Z" fill="#7a7a7a" stroke="#222" stroke-width="0.6"/><line x1="648" y1="315.5" x2="667" y2="315.5" stroke="#222" stroke-width="1.3"/><rect x="620" y="319.5" width="14" height="3" fill="#888"/><rect x="681" y="319.5" width="14" height="3" fill="#888"/></g><g><rect x="711.4" y="166.5" width="215.8" height="157.5" fill="#fff" stroke="#444" stroke-width="0.8"/><rect x="714" y="169.5" width="210" height="151.5" fill="none" stroke="#555" stroke-width="0.6"/><rect x="717.4" y="173.9" width="202.4" height="144.1" fill="#c2c2c2" stroke="#555" stroke-width="0.6"/><rect x="717.4" y="173.9" width="202.39999999999998" height="108.2" fill="#bdbdbd"/><g stroke="#262626" stroke-width="1.3"><line x1="717.40" y1="173.9" x2="717.40" y2="282.1"/><line x1="725.18" y1="173.9" x2="725.18" y2="282.1"/><line x1="732.97" y1="173.9" x2="732.97" y2="282.1"/><line x1="740.75" y1="173.9" x2="740.75" y2="282.1"/><line x1="748.54" y1="173.9" x2="748.54" y2="282.1"/><line x1="756.32" y1="173.9" x2="756.32" y2="282.1"/><line x1="764.11" y1="173.9" x2="764.11" y2="282.1"/><line x1="771.89" y1="173.9" x2="771.89" y2="282.1"/><line x1="779.68" y1="173.9" x2="779.68" y2="282.1"/><line x1="787.46" y1="173.9" x2="787.46" y2="282.1"/><line x1="795.25" y1="173.9" x2="795.25" y2="282.1"/><line x1="803.03" y1="173.9" x2="803.03" y2="282.1"/><line x1="810.82" y1="173.9" x2="810.82" y2="282.1"/><line x1="818.60" y1="173.9" x2="818.60" y2="282.1"/><line x1="826.38" y1="173.9" x2="826.38" y2="282.1"/><line x1="834.17" y1="173.9" x2="834.17" y2="282.1"/><line x1="841.95" y1="173.9" x2="841.95" y2="282.1"/><line x1="849.74" y1="173.9" x2="849.74" y2="282.1"/><line x1="857.52" y1="173.9" x2="857.52" y2="282.1"/><line x1="865.31" y1="173.9" x2="865.31" y2="282.1"/><line x1="873.09" y1="173.9" x2="873.09" y2="282.1"/><line x1="880.88" y1="173.9" x2="880.88" y2="282.1"/><line x1="888.66" y1="173.9" x2="888.66" y2="282.1"/><line x1="896.45" y1="173.9" x2="896.45" y2="282.1"/><line x1="904.23" y1="173.9" x2="904.23" y2="282.1"/><line x1="912.02" y1="173.9" x2="912.02" y2="282.1"/><line x1="919.80" y1="173.9" x2="919.80" y2="282.1"/><line x1="717.4" y1="173.9" x2="919.8" y2="173.9"/><line x1="717.4" y1="177.6" x2="919.8" y2="177.6"/><line x1="717.4" y1="193.1" x2="919.8" y2="193.1"/><line x1="717.4" y1="219.4" x2="919.8" y2="219.4"/><line x1="717.4" y1="225.2" x2="919.8" y2="225.2"/><line x1="717.4" y1="247.2" x2="919.8" y2="247.2"/><line x1="717.4" y1="267.4" x2="919.8" y2="267.4"/><line x1="717.4" y1="274.8" x2="919.8" y2="274.8"/><line x1="717.4" y1="282.1" x2="919.8" y2="282.1"/></g><rect x="749.5" y="175.7" width="7.4" height="43.70000000000002" fill="#1c1c1c"/><rect x="749.5" y="175.7" width="7.4" height="43.70000000000002" fill="url(#dots)"/><rect x="749.5" y="225.2" width="7.4" height="41.30000000000001" fill="#1c1c1c"/><rect x="749.5" y="225.2" width="7.4" height="41.30000000000001" fill="url(#dots)"/><rect x="750.6" y="282.1" width="5.2" height="21.4" fill="#8a8a8a" stroke="#333" stroke-width="0.5"/><rect x="788.5999999999999" y="175.7" width="7.4" height="43.70000000000002" fill="#1c1c1c"/><rect x="788.5999999999999" y="175.7" width="7.4" height="43.70000000000002" fill="url(#dots)"/><rect x="788.5999999999999" y="225.2" width="7.4" height="41.30000000000001" fill="#1c1c1c"/><rect x="788.5999999999999" y="225.2" width="7.4" height="41.30000000000001" fill="url(#dots)"/><rect x="789.6999999999999" y="282.1" width="5.2" height="21.4" fill="#8a8a8a" stroke="#333" stroke-width="0.5"/><rect x="827.9" y="175.7" width="7.4" height="43.70000000000002" fill="#1c1c1c"/><rect x="827.9" y="175.7" width="7.4" height="43.70000000000002" fill="url(#dots)"/><rect x="827.9" y="225.2" width="7.4" height="41.30000000000001" fill="#1c1c1c"/><rect x="827.9" y="225.2" width="7.4" height="41.30000000000001" fill="url(#dots)"/><rect x="829.0" y="282.1" width="5.2" height="21.4" fill="#8a8a8a" stroke="#333" stroke-width="0.5"/><rect x="866.9" y="175.7" width="7.4" height="43.70000000000002" fill="#1c1c1c"/><rect x="866.9" y="175.7" width="7.4" height="43.70000000000002" fill="url(#dots)"/><rect x="866.9" y="225.2" width="7.4" height="41.30000000000001" fill="#1c1c1c"/><rect x="866.9" y="225.2" width="7.4" height="41.30000000000001" fill="url(#dots)"/><rect x="868.0" y="282.1" width="5.2" height="21.4" fill="#8a8a8a" stroke="#333" stroke-width="0.5"/><rect x="906.3" y="175.7" width="7.4" height="43.70000000000002" fill="#1c1c1c"/><rect x="906.3" y="175.7" width="7.4" height="43.70000000000002" fill="url(#dots)"/><rect x="906.3" y="225.2" width="7.4" height="41.30000000000001" fill="#1c1c1c"/><rect x="906.3" y="225.2" width="7.4" height="41.30000000000001" fill="url(#dots)"/><rect x="907.4" y="282.1" width="5.2" height="21.4" fill="#8a8a8a" stroke="#333" stroke-width="0.5"/><rect x="717.9" y="282.1" width="5.2" height="21.4" fill="#8a8a8a" stroke="#333" stroke-width="0.5"/><rect x="718.6" y="225.2" width="5" height="26" fill="#777" stroke="#333" stroke-width="0.5"/><rect x="759.0" y="225.2" width="5" height="26" fill="#777" stroke="#333" stroke-width="0.5"/><rect x="798.1" y="225.2" width="5" height="26" fill="#777" stroke="#333" stroke-width="0.5"/><rect x="837.3" y="225.2" width="5" height="26" fill="#777" stroke="#333" stroke-width="0.5"/><rect x="876.9" y="225.2" width="5" height="26" fill="#777" stroke="#333" stroke-width="0.5"/><rect x="914.0" y="225.2" width="5" height="26" fill="#777" stroke="#333" stroke-width="0.5"/><rect x="736.0" y="295" width="3.2" height="29" rx="1.5" fill="#999" stroke="#333" stroke-width="0.6"/><rect x="775.1" y="295" width="3.2" height="29" rx="1.5" fill="#999" stroke="#333" stroke-width="0.6"/><rect x="814.4" y="295" width="3.2" height="29" rx="1.5" fill="#999" stroke="#333" stroke-width="0.6"/><rect x="853.4" y="295" width="3.2" height="29" rx="1.5" fill="#999" stroke="#333" stroke-width="0.6"/><rect x="892.4" y="295" width="3.2" height="29" rx="1.5" fill="#999" stroke="#333" stroke-width="0.6"/><rect x="717.4" y="318" width="202.4" height="2.5" fill="#fff" stroke="#555" stroke-width="0.5"/></g></g>
<rect x="1137.3" y="167" width="4.4" height="157" fill="#fff" stroke="#555" stroke-width="0.6"/>
<rect x="1137.3" y="756" width="4.4" height="157" fill="#fff" stroke="#555" stroke-width="0.6"/>
<g><rect x="286.4" y="506.8" width="373.6" height="67" fill="none" stroke="#444" stroke-width="1"/><rect x="288" y="508.2" width="372" height="64.2" fill="none" stroke="#fff" stroke-width="1.2"/><rect x="289" y="509.3" width="371" height="62" fill="none" stroke="#555" stroke-width="0.6"/><g stroke="#555" stroke-width="1.6"><line x1="336" y1="510.2" x2="705" y2="510.2"/><line x1="336" y1="569.8" x2="705" y2="569.8"/><line x1="336" y1="538.2" x2="705" y2="538.2"/><line x1="336" y1="542.1" x2="705" y2="542.1"/></g><g stroke="#333" stroke-width="1.4"><line x1="310" y1="507" x2="347" y2="507"/><line x1="364" y1="507" x2="405" y2="507"/><line x1="432" y1="507" x2="470" y2="507"/><line x1="490" y1="507" x2="532" y2="507"/><line x1="310" y1="573.5" x2="347" y2="573.5"/><line x1="364" y1="573.5" x2="405" y2="573.5"/><line x1="432" y1="573.5" x2="470" y2="573.5"/><line x1="490" y1="573.5" x2="532" y2="573.5"/></g><rect x="554.4" y="507.5" width="37.9" height="65.5" fill="none" stroke="#666" stroke-width="1"/><rect x="557.5" y="512" width="23" height="9" fill="none" stroke="#777" stroke-width="0.8"/><rect x="557.5" y="560" width="23" height="9" fill="none" stroke="#777" stroke-width="0.8"/><rect x="592.3" y="528.5" width="63.3" height="23.1" fill="#cfcfcf" stroke="#1a1a1a" stroke-width="1.3"/><line x1="605.4" y1="528.5" x2="605.4" y2="551.6" stroke="#333" stroke-width="1"/><line x1="592" y1="540.2" x2="656" y2="540.2" stroke="#111" stroke-width="1.8"/><g fill="#c55" opacity="0.8"><rect x="563" y="538" width="3" height="4"/><rect x="582" y="538" width="3" height="4"/><rect x="600" y="538" width="3" height="4"/><rect x="564" y="570" width="4" height="2"/><rect x="577" y="570" width="4" height="2"/><rect x="635" y="568.5" width="4" height="2.5"/></g><circle cx="663.2" cy="514.8" r="21.7" fill="none" stroke="#333" stroke-width="0.9"/></g>
<text x="243.8" y="627.7" font-size="44" fill="#fff" textLength="669" lengthAdjust="spacingAndGlyphs">tief, trocken, gas-dicht, unterkritisch</text>
<g fill="#e0823a" font-size="26.7"><text x="641.2" y="382.4" textLength="244.2" lengthAdjust="spacingAndGlyphs">max. Baufläche für</text><text x="660" y="420.6" textLength="207.6" lengthAdjust="spacingAndGlyphs">Siemag-Tecberg</text><text x="665.8" y="459.4" textLength="196.8" lengthAdjust="spacingAndGlyphs">mit Lloyd Werft</text></g>
<line x1="572" y1="414" x2="925" y2="414" stroke="#5a5a5a" stroke-width="1"/>
<g transform="translate(450.2 269.3) rotate(42.35)"><rect x="-36.3" y="-42.0" width="72.6" height="84.0" fill="#b4b4b4" stroke="#3c3c3c" stroke-width="0.9"/><rect x="-35.8" y="-42" width="71.6" height="2.5" fill="#a9a9a9"/><rect x="-35.8" y="-39.5" width="71.6" height="7.0" fill="#fcd8c2"/><rect x="-35.8" y="-32.5" width="71.6" height="4.0" fill="#a9a9a9"/><rect x="-35.8" y="-28.5" width="71.6" height="7.0" fill="#fcd8c2"/><rect x="-35.8" y="21.5" width="71.6" height="7.0" fill="#fcd8c2"/><rect x="-35.8" y="28.5" width="71.6" height="4.0" fill="#a9a9a9"/><rect x="-35.8" y="32.5" width="71.6" height="7.0" fill="#fcd8c2"/><rect x="-35.8" y="39.5" width="71.6" height="2.5" fill="#a9a9a9"/><rect x="-36.3" y="-42.0" width="72.6" height="84.0" fill="none" stroke="#3c3c3c" stroke-width="0.9"/><rect x="-12" y="-11" width="24" height="22" fill="#f4f6f8" stroke="#888" stroke-width="0.5"/><line x1="0" y1="-11" x2="0" y2="11" stroke="#9ab" stroke-width="0.5"/><line x1="-12" y1="0" x2="12" y2="0" stroke="#9ab" stroke-width="0.5"/><rect x="-17" y="-16.1" width="34" height="3.2" fill="#f0d0d0"/><line x1="-17" y1="-16.4" x2="17" y2="-16.4" stroke="#9c1a1a" stroke-width="1.3"/><line x1="-17" y1="-12.6" x2="17" y2="-12.6" stroke="#9c1a1a" stroke-width="1.3"/><rect x="-17" y="12.9" width="34" height="3.2" fill="#f0d0d0"/><line x1="-17" y1="12.6" x2="17" y2="12.6" stroke="#9c1a1a" stroke-width="1.3"/><line x1="-17" y1="16.4" x2="17" y2="16.4" stroke="#9c1a1a" stroke-width="1.3"/><rect x="-2.2" y="-42.5" width="1.5" height="4" fill="#fff" stroke="#c07070" stroke-width="0.3"/><rect x="0.7" y="-42.5" width="1.5" height="4" fill="#fff" stroke="#c07070" stroke-width="0.3"/><rect x="-2.2" y="-31.5" width="1.5" height="4" fill="#fff" stroke="#c07070" stroke-width="0.3"/><rect x="0.7" y="-31.5" width="1.5" height="4" fill="#fff" stroke="#c07070" stroke-width="0.3"/><rect x="-2.2" y="-20.5" width="1.5" height="4" fill="#fff" stroke="#c07070" stroke-width="0.3"/><rect x="0.7" y="-20.5" width="1.5" height="4" fill="#fff" stroke="#c07070" stroke-width="0.3"/><rect x="-2.2" y="16.5" width="1.5" height="4" fill="#fff" stroke="#c07070" stroke-width="0.3"/><rect x="0.7" y="16.5" width="1.5" height="4" fill="#fff" stroke="#c07070" stroke-width="0.3"/><rect x="-2.2" y="27.5" width="1.5" height="4" fill="#fff" stroke="#c07070" stroke-width="0.3"/><rect x="0.7" y="27.5" width="1.5" height="4" fill="#fff" stroke="#c07070" stroke-width="0.3"/><rect x="-2.2" y="38.5" width="1.5" height="4" fill="#fff" stroke="#c07070" stroke-width="0.3"/><rect x="0.7" y="38.5" width="1.5" height="4" fill="#fff" stroke="#c07070" stroke-width="0.3"/><line x1="10" y1="-11" x2="36.3" y2="-11" stroke="#333" stroke-width="0.8"/><line x1="10" y1="11" x2="36.3" y2="11" stroke="#333" stroke-width="0.8"/><rect x="36.3" y="-11" width="44" height="22" fill="#dcd4a6" stroke="#333" stroke-width="0.9"/><line x1="36.3" y1="-7" x2="80.3" y2="-7" stroke="#555" stroke-width="0.6"/><line x1="36.3" y1="7" x2="80.3" y2="7" stroke="#555" stroke-width="0.6"/><path d="M80.3 -9L377.4 -1.8M80.3 9L377.4 1.8" stroke="#2c2c2c" stroke-width="1" fill="none"/><path d="M0 -1L377.4 -0.6M0 1.5L377.4 0.6" stroke="#e2792a" stroke-width="0.9" fill="none"/><path d="M80.3 -4.5L377.4 -1.2" stroke="#8fb0d0" stroke-width="0.5" fill="none" opacity="0.7"/><rect x="187" y="-6.5" width="44" height="13" fill="#dcd4a6" stroke="#333" stroke-width="0.9"/><line x1="187" y1="-0.8" x2="231" y2="-0.8" stroke="#e2792a" stroke-width="0.9"/></g>
<g transform="translate(1019.8 267.2) rotate(134.98)"><rect x="-35.7" y="-42.6" width="71.4" height="85.2" fill="#b4b4b4" stroke="#3c3c3c" stroke-width="0.9"/><rect x="-35.2" y="-42" width="70.4" height="2.5" fill="#a9a9a9"/><rect x="-35.2" y="-39.5" width="70.4" height="7.0" fill="#fcd8c2"/><rect x="-35.2" y="-32.5" width="70.4" height="4.0" fill="#a9a9a9"/><rect x="-35.2" y="-28.5" width="70.4" height="7.0" fill="#fcd8c2"/><rect x="-35.2" y="21.5" width="70.4" height="7.0" fill="#fcd8c2"/><rect x="-35.2" y="28.5" width="70.4" height="4.0" fill="#a9a9a9"/><rect x="-35.2" y="32.5" width="70.4" height="7.0" fill="#fcd8c2"/><rect x="-35.2" y="39.5" width="70.4" height="2.5" fill="#a9a9a9"/><rect x="-35.7" y="-42.6" width="71.4" height="85.2" fill="none" stroke="#3c3c3c" stroke-width="0.9"/><rect x="-12" y="-11" width="24" height="22" fill="#f4f6f8" stroke="#888" stroke-width="0.5"/><line x1="0" y1="-11" x2="0" y2="11" stroke="#9ab" stroke-width="0.5"/><line x1="-12" y1="0" x2="12" y2="0" stroke="#9ab" stroke-width="0.5"/><rect x="-17" y="-16.1" width="34" height="3.2" fill="#f0d0d0"/><line x1="-17" y1="-16.4" x2="17" y2="-16.4" stroke="#9c1a1a" stroke-width="1.3"/><line x1="-17" y1="-12.6" x2="17" y2="-12.6" stroke="#9c1a1a" stroke-width="1.3"/><rect x="-17" y="12.9" width="34" height="3.2" fill="#f0d0d0"/><line x1="-17" y1="12.6" x2="17" y2="12.6" stroke="#9c1a1a" stroke-width="1.3"/><line x1="-17" y1="16.4" x2="17" y2="16.4" stroke="#9c1a1a" stroke-width="1.3"/><rect x="-2" y="-42.6" width="4" height="25.6" fill="#fff" stroke="#c05050" stroke-width="0.6"/><line x1="0" y1="-42.6" x2="0" y2="-17" stroke="#d08080" stroke-width="0.5"/><rect x="-2" y="17" width="4" height="25.6" fill="#fff" stroke="#c05050" stroke-width="0.6"/><line x1="0" y1="17" x2="0" y2="42.6" stroke="#d08080" stroke-width="0.5"/><line x1="10" y1="-11" x2="35.7" y2="-11" stroke="#333" stroke-width="0.8"/><line x1="10" y1="11" x2="35.7" y2="11" stroke="#333" stroke-width="0.8"/><rect x="35.7" y="-11" width="44" height="22" fill="#dcd4a6" stroke="#333" stroke-width="0.9"/><line x1="35.7" y1="-7" x2="79.7" y2="-7" stroke="#555" stroke-width="0.6"/><line x1="35.7" y1="7" x2="79.7" y2="7" stroke="#555" stroke-width="0.6"/><path d="M79.7 -9L361.2 -1.8M79.7 9L361.2 1.8" stroke="#2c2c2c" stroke-width="1" fill="none"/><path d="M0 -1L361.2 -0.6M0 1.5L361.2 0.6" stroke="#e2792a" stroke-width="0.9" fill="none"/><path d="M79.7 -4.5L361.2 -1.2" stroke="#8fb0d0" stroke-width="0.5" fill="none" opacity="0.7"/><rect x="177.5" y="-6.5" width="44" height="13" fill="#dcd4a6" stroke="#333" stroke-width="0.9"/><line x1="177.5" y1="-0.8" x2="221.5" y2="-0.8" stroke="#e2792a" stroke-width="0.9"/></g>
<g transform="translate(0 1080) scale(1 -1)"><g transform="translate(450.2 269.3) rotate(42.35)"><rect x="-36.3" y="-42.0" width="72.6" height="84.0" fill="#b4b4b4" stroke="#3c3c3c" stroke-width="0.9"/><rect x="-35.8" y="-42" width="71.6" height="2.5" fill="#a9a9a9"/><rect x="-35.8" y="-39.5" width="71.6" height="7.0" fill="#fcd8c2"/><rect x="-35.8" y="-32.5" width="71.6" height="4.0" fill="#a9a9a9"/><rect x="-35.8" y="-28.5" width="71.6" height="7.0" fill="#fcd8c2"/><rect x="-35.8" y="21.5" width="71.6" height="7.0" fill="#fcd8c2"/><rect x="-35.8" y="28.5" width="71.6" height="4.0" fill="#a9a9a9"/><rect x="-35.8" y="32.5" width="71.6" height="7.0" fill="#fcd8c2"/><rect x="-35.8" y="39.5" width="71.6" height="2.5" fill="#a9a9a9"/><rect x="-36.3" y="-42.0" width="72.6" height="84.0" fill="none" stroke="#3c3c3c" stroke-width="0.9"/><rect x="-12" y="-11" width="24" height="22" fill="#f4f6f8" stroke="#888" stroke-width="0.5"/><line x1="0" y1="-11" x2="0" y2="11" stroke="#9ab" stroke-width="0.5"/><line x1="-12" y1="0" x2="12" y2="0" stroke="#9ab" stroke-width="0.5"/><rect x="-17" y="-16.1" width="34" height="3.2" fill="#f0d0d0"/><line x1="-17" y1="-16.4" x2="17" y2="-16.4" stroke="#9c1a1a" stroke-width="1.3"/><line x1="-17" y1="-12.6" x2="17" y2="-12.6" stroke="#9c1a1a" stroke-width="1.3"/><rect x="-17" y="12.9" width="34" height="3.2" fill="#f0d0d0"/><line x1="-17" y1="12.6" x2="17" y2="12.6" stroke="#9c1a1a" stroke-width="1.3"/><line x1="-17" y1="16.4" x2="17" y2="16.4" stroke="#9c1a1a" stroke-width="1.3"/><rect x="-2.2" y="-42.5" width="1.5" height="4" fill="#fff" stroke="#c07070" stroke-width="0.3"/><rect x="0.7" y="-42.5" width="1.5" height="4" fill="#fff" stroke="#c07070" stroke-width="0.3"/><rect x="-2.2" y="-31.5" width="1.5" height="4" fill="#fff" stroke="#c07070" stroke-width="0.3"/><rect x="0.7" y="-31.5" width="1.5" height="4" fill="#fff" stroke="#c07070" stroke-width="0.3"/><rect x="-2.2" y="-20.5" width="1.5" height="4" fill="#fff" stroke="#c07070" stroke-width="0.3"/><rect x="0.7" y="-20.5" width="1.5" height="4" fill="#fff" stroke="#c07070" stroke-width="0.3"/><rect x="-2.2" y="16.5" width="1.5" height="4" fill="#fff" stroke="#c07070" stroke-width="0.3"/><rect x="0.7" y="16.5" width="1.5" height="4" fill="#fff" stroke="#c07070" stroke-width="0.3"/><rect x="-2.2" y="27.5" width="1.5" height="4" fill="#fff" stroke="#c07070" stroke-width="0.3"/><rect x="0.7" y="27.5" width="1.5" height="4" fill="#fff" stroke="#c07070" stroke-width="0.3"/><rect x="-2.2" y="38.5" width="1.5" height="4" fill="#fff" stroke="#c07070" stroke-width="0.3"/><rect x="0.7" y="38.5" width="1.5" height="4" fill="#fff" stroke="#c07070" stroke-width="0.3"/><line x1="10" y1="-11" x2="36.3" y2="-11" stroke="#333" stroke-width="0.8"/><line x1="10" y1="11" x2="36.3" y2="11" stroke="#333" stroke-width="0.8"/><rect x="36.3" y="-11" width="44" height="22" fill="#dcd4a6" stroke="#333" stroke-width="0.9"/><line x1="36.3" y1="-7" x2="80.3" y2="-7" stroke="#555" stroke-width="0.6"/><line x1="36.3" y1="7" x2="80.3" y2="7" stroke="#555" stroke-width="0.6"/><path d="M80.3 -9L377.4 -1.8M80.3 9L377.4 1.8" stroke="#2c2c2c" stroke-width="1" fill="none"/><path d="M0 -1L377.4 -0.6M0 1.5L377.4 0.6" stroke="#e2792a" stroke-width="0.9" fill="none"/><path d="M80.3 -4.5L377.4 -1.2" stroke="#8fb0d0" stroke-width="0.5" fill="none" opacity="0.7"/><rect x="187" y="-6.5" width="44" height="13" fill="#dcd4a6" stroke="#333" stroke-width="0.9"/><line x1="187" y1="-0.8" x2="231" y2="-0.8" stroke="#e2792a" stroke-width="0.9"/></g><g transform="translate(1019.8 267.2) rotate(134.98)"><rect x="-35.7" y="-42.6" width="71.4" height="85.2" fill="#b4b4b4" stroke="#3c3c3c" stroke-width="0.9"/><rect x="-35.2" y="-42" width="70.4" height="2.5" fill="#a9a9a9"/><rect x="-35.2" y="-39.5" width="70.4" height="7.0" fill="#fcd8c2"/><rect x="-35.2" y="-32.5" width="70.4" height="4.0" fill="#a9a9a9"/><rect x="-35.2" y="-28.5" width="70.4" height="7.0" fill="#fcd8c2"/><rect x="-35.2" y="21.5" width="70.4" height="7.0" fill="#fcd8c2"/><rect x="-35.2" y="28.5" width="70.4" height="4.0" fill="#a9a9a9"/><rect x="-35.2" y="32.5" width="70.4" height="7.0" fill="#fcd8c2"/><rect x="-35.2" y="39.5" width="70.4" height="2.5" fill="#a9a9a9"/><rect x="-35.7" y="-42.6" width="71.4" height="85.2" fill="none" stroke="#3c3c3c" stroke-width="0.9"/><rect x="-12" y="-11" width="24" height="22" fill="#f4f6f8" stroke="#888" stroke-width="0.5"/><line x1="0" y1="-11" x2="0" y2="11" stroke="#9ab" stroke-width="0.5"/><line x1="-12" y1="0" x2="12" y2="0" stroke="#9ab" stroke-width="0.5"/><rect x="-17" y="-16.1" width="34" height="3.2" fill="#f0d0d0"/><line x1="-17" y1="-16.4" x2="17" y2="-16.4" stroke="#9c1a1a" stroke-width="1.3"/><line x1="-17" y1="-12.6" x2="17" y2="-12.6" stroke="#9c1a1a" stroke-width="1.3"/><rect x="-17" y="12.9" width="34" height="3.2" fill="#f0d0d0"/><line x1="-17" y1="12.6" x2="17" y2="12.6" stroke="#9c1a1a" stroke-width="1.3"/><line x1="-17" y1="16.4" x2="17" y2="16.4" stroke="#9c1a1a" stroke-width="1.3"/><rect x="-2" y="-42.6" width="4" height="25.6" fill="#fff" stroke="#c05050" stroke-width="0.6"/><line x1="0" y1="-42.6" x2="0" y2="-17" stroke="#d08080" stroke-width="0.5"/><rect x="-2" y="17" width="4" height="25.6" fill="#fff" stroke="#c05050" stroke-width="0.6"/><line x1="0" y1="17" x2="0" y2="42.6" stroke="#d08080" stroke-width="0.5"/><line x1="10" y1="-11" x2="35.7" y2="-11" stroke="#333" stroke-width="0.8"/><line x1="10" y1="11" x2="35.7" y2="11" stroke="#333" stroke-width="0.8"/><rect x="35.7" y="-11" width="44" height="22" fill="#dcd4a6" stroke="#333" stroke-width="0.9"/><line x1="35.7" y1="-7" x2="79.7" y2="-7" stroke="#555" stroke-width="0.6"/><line x1="35.7" y1="7" x2="79.7" y2="7" stroke="#555" stroke-width="0.6"/><path d="M79.7 -9L361.2 -1.8M79.7 9L361.2 1.8" stroke="#2c2c2c" stroke-width="1" fill="none"/><path d="M0 -1L361.2 -0.6M0 1.5L361.2 0.6" stroke="#e2792a" stroke-width="0.9" fill="none"/><path d="M79.7 -4.5L361.2 -1.2" stroke="#8fb0d0" stroke-width="0.5" fill="none" opacity="0.7"/><rect x="177.5" y="-6.5" width="44" height="13" fill="#dcd4a6" stroke="#333" stroke-width="0.9"/><line x1="177.5" y1="-0.8" x2="221.5" y2="-0.8" stroke="#e2792a" stroke-width="0.9"/></g></g>
<g stroke="#9cc0e0" stroke-width="0.7" fill="#6a9ad0" opacity="0.8"><line x1="407" y1="232.4" x2="428" y2="248"/><circle cx="407" cy="232.4" r="1.5" stroke="none"/><line x1="1068" y1="218.8" x2="1045" y2="238"/><circle cx="1068" cy="218.8" r="1.5" stroke="none"/><line x1="410.4" y1="845" x2="430" y2="830"/><circle cx="410.4" cy="845" r="1.5" stroke="none"/><line x1="1058.9" y1="851.1" x2="1040" y2="835"/><circle cx="1058.9" cy="851.1" r="1.5" stroke="none"/></g>
<g><rect x="713.6" y="501.6" width="220.4" height="6.0" fill="#fff" stroke="#333" stroke-width="0.8"/><line x1="713.6" y1="504.6" x2="934" y2="504.6" stroke="#777" stroke-width="0.6"/><rect x="713.6" y="573.2" width="220.4" height="6.0" fill="#fff" stroke="#333" stroke-width="0.8"/><line x1="713.6" y1="576.2" x2="934" y2="576.2" stroke="#777" stroke-width="0.6"/><rect x="820" y="501.6" width="9.4" height="77.6" fill="#fff" stroke="#444" stroke-width="0.8"/><rect x="714" y="500.2" width="10.2" height="8.8" fill="#fff" stroke="#222" stroke-width="1.1"/><rect x="714" y="571.8" width="10.2" height="8.8" fill="#fff" stroke="#222" stroke-width="1.1"/><rect x="766" y="500.2" width="10.2" height="8.8" fill="#fff" stroke="#222" stroke-width="1.1"/><rect x="766" y="571.8" width="10.2" height="8.8" fill="#fff" stroke="#222" stroke-width="1.1"/><rect x="819.4" y="500.2" width="10.2" height="8.8" fill="#fff" stroke="#222" stroke-width="1.1"/><rect x="819.4" y="571.8" width="10.2" height="8.8" fill="#fff" stroke="#222" stroke-width="1.1"/><rect x="872.6" y="500.2" width="10.2" height="8.8" fill="#fff" stroke="#222" stroke-width="1.1"/><rect x="872.6" y="571.8" width="10.2" height="8.8" fill="#fff" stroke="#222" stroke-width="1.1"/><rect x="924.7" y="500.2" width="10.2" height="8.8" fill="#fff" stroke="#222" stroke-width="1.1"/><rect x="924.7" y="571.8" width="10.2" height="8.8" fill="#fff" stroke="#222" stroke-width="1.1"/></g>
<g><rect x="928.5" y="458.3" width="111.5" height="163.3" fill="#fbfbfb" stroke="#333" stroke-width="1"/><g stroke="#5a5a5a" stroke-width="0.8" fill="none"><line x1="935.8" y1="465" x2="935.8" y2="615"/><line x1="945.8" y1="465" x2="945.8" y2="615"/><line x1="954.2" y1="465" x2="954.2" y2="615"/><line x1="965" y1="465" x2="965" y2="615"/><line x1="975.8" y1="465" x2="975.8" y2="615"/><line x1="997.5" y1="465" x2="997.5" y2="615"/><line x1="1008.3" y1="465" x2="1008.3" y2="615"/><line x1="1020" y1="465" x2="1020" y2="615"/><line x1="1030" y1="465" x2="1030" y2="615"/><line x1="986.7" y1="458.3" x2="986.7" y2="621.6" stroke="#333" stroke-width="1"/><line x1="935.8" y1="508.3" x2="1040" y2="508.3"/><line x1="935.8" y1="573.3" x2="1040" y2="573.3"/><path d="M929 461H1040M929 463.5H1040M929 616.5H1040M929 619H1040" stroke="#777" stroke-width="0.6"/><path d="M935.8 465V615" stroke="#333"/><rect x="929.6" y="462" width="2.5" height="42" rx="1.2" fill="#ccc" stroke="#777" stroke-width="0.5"/><rect x="929.6" y="577" width="2.5" height="40" rx="1.2" fill="#ccc" stroke="#777" stroke-width="0.5"/></g><rect x="938" y="470.5" width="43.60000000000002" height="7" fill="#fad8c4" stroke="#e8b8a0" stroke-width="0.4"/><rect x="938" y="485.5" width="43.60000000000002" height="7" fill="#fad8c4" stroke="#e8b8a0" stroke-width="0.4"/><rect x="938" y="573" width="43.60000000000002" height="7" fill="#fad8c4" stroke="#e8b8a0" stroke-width="0.4"/><rect x="938" y="588" width="43.60000000000002" height="7" fill="#fad8c4" stroke="#e8b8a0" stroke-width="0.4"/><rect x="992" y="481.6" width="43.299999999999955" height="7" fill="#fad8c4" stroke="#e8b8a0" stroke-width="0.4"/><rect x="992" y="496" width="43.299999999999955" height="7" fill="#fad8c4" stroke="#e8b8a0" stroke-width="0.4"/><rect x="992" y="584" width="43.299999999999955" height="7" fill="#fad8c4" stroke="#e8b8a0" stroke-width="0.4"/><rect x="992" y="599" width="43.299999999999955" height="7" fill="#fad8c4" stroke="#e8b8a0" stroke-width="0.4"/><g stroke="#cc5a5a" stroke-width="0.7" fill="none"><path d="M955.5 469V518M958 469V518M961.5 469V518M964 469V518M955.5 572V598M958 572V598M961.5 572V598M964 572V598"/><path d="M1009 480V516M1011.5 480V516M1014.5 480V516M1017 480V516M1009 562V611M1011.5 562V611M1014.5 562V611M1017 562V611"/><rect x="945.3" y="518.3" width="29.7" height="46.7"/><rect x="998.3" y="515.8" width="30" height="45.9"/><path d="M958 540V560H962M1012 520V550H1016" stroke="#a33"/></g><g stroke="#a81c1c" stroke-width="1.7"><line x1="941" y1="539.9" x2="977" y2="539.9"/><line x1="941" y1="542.6999999999999" x2="977" y2="542.6999999999999"/><line x1="941" y1="567.1" x2="977" y2="567.1"/><line x1="941" y1="569.9" x2="977" y2="569.9"/><line x1="996" y1="509.6" x2="1031" y2="509.6"/><line x1="996" y1="512.4" x2="1031" y2="512.4"/><line x1="996" y1="536.0" x2="1031" y2="536.0"/><line x1="996" y1="538.8" x2="1031" y2="538.8"/></g><rect x="928.5" y="458.3" width="10.4" height="6" fill="#fff" stroke="#222" stroke-width="1.1"/><rect x="977.2" y="458.3" width="10.4" height="6" fill="#fff" stroke="#222" stroke-width="1.1"/><rect x="1029.6" y="458.3" width="10.4" height="6" fill="#fff" stroke="#222" stroke-width="1.1"/><rect x="928.5" y="615.8" width="10.4" height="6" fill="#fff" stroke="#222" stroke-width="1.1"/><rect x="977.2" y="615.8" width="10.4" height="6" fill="#fff" stroke="#222" stroke-width="1.1"/><rect x="1029.6" y="615.8" width="10.4" height="6" fill="#fff" stroke="#222" stroke-width="1.1"/><rect x="1082.7" y="458.3" width="10.4" height="6" fill="#fff" stroke="#222" stroke-width="1.1"/><rect x="1082.7" y="616" width="10.4" height="6" fill="#fff" stroke="#222" stroke-width="1.1"/><circle cx="1026" cy="472.5" r="1.3" fill="#111"/></g>
<g fill="none" stroke-width="0.9"><path d="M770 528L1000 511M770 533L985 535M770 546L960 547M770 552L946 569" stroke="#e2792a"/><path d="M770 530.5L1011.5 524.4M770 549L954.4 555.5" stroke="#333"/></g>
<g transform="translate(747.2 540.0)"><circle r="24.6" fill="#7f868e" stroke="#454b52" stroke-width="1.3"/><circle r="21.6" fill="#9aa1a8"/><circle r="20.3" fill="#fafafa" stroke="#111" stroke-width="1.8"/><g stroke="#151515" fill="none"><circle r="16.8" stroke-width="1.3" stroke-dasharray="2.2 1"/><circle r="13.6" stroke-width="1.2" stroke-dasharray="1.8 1.2"/><path d="M-19.8 -6.5A8 8 0 0 1 -19.8 6.5M19.8 -6.5A8 8 0 0 0 19.8 6.5" stroke-width="1.6"/><path d="M-14 -14L14 14M14 -14L-14 14" stroke-width="0.8" stroke="#333"/></g><rect x="-6.7" y="-12.5" width="13.4" height="25" rx="3" fill="#f4f4f4" stroke="#111" stroke-width="1.7"/><g stroke="#222" stroke-width="1.2"><line x1="-6.7" y1="-6" x2="6.7" y2="-6"/><line x1="-6.7" y1="6" x2="6.7" y2="6"/><line x1="-6.7" y1="-9" x2="6.7" y2="-9" stroke-width="0.7"/><line x1="-6.7" y1="9" x2="6.7" y2="9" stroke-width="0.7"/></g><line x1="-21" y1="0.3" x2="21" y2="0.3" stroke="#6b7886" stroke-width="1.5"/><line x1="0" y1="-21" x2="0" y2="21" stroke="#5b6470" stroke-width="1.2"/></g><circle cx="778.7" cy="544.2" r="1.4" fill="#111"/><circle cx="761.7" cy="567" r="1.4" fill="#111"/><text x="728.7" y="488" font-size="6.5" fill="#3a3ad0">D 12.00 SBB</text>
<path d="M663.7 491.8H925V414.6H1141.5V664H925V586.3H663.7Z" fill="none" stroke="#da7818" stroke-width="6.4"/>
<g stroke="#8fbde6" stroke-width="0.8" opacity="0.4"><line x1="746.9" y1="0" x2="746.9" y2="1080"/><line x1="0" y1="540.6" x2="335" y2="540.6"/><line x1="1040" y1="540.6" x2="1308" y2="540.6"/></g>
</svg>
</body></html>
